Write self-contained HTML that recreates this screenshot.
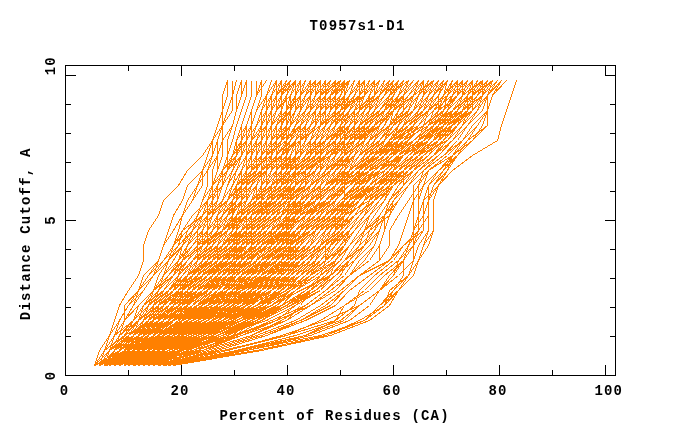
<!DOCTYPE html>
<html><head><meta charset="utf-8"><title>T0957s1-D1</title>
<style>
html,body{margin:0;padding:0;background:#fff;}
svg{display:block;}
text{font-family:"Liberation Mono","DejaVu Sans Mono",monospace;font-weight:bold;font-size:14px;letter-spacing:1.2px;fill:#000;}
.c polyline{fill:none;stroke:#ff8000;stroke-width:1;}
</style></head><body>
<svg width="680" height="440" viewBox="0 0 680 440">
<rect width="680" height="440" fill="#fff"/>
<g class="c" shape-rendering="crispEdges" transform="translate(0.5,0.5)">
<polyline points="94,365 99,350 109,335 114,320 119,305 128,290 138,275 143,260 143,245 148,230 158,215 163,200 178,185 187,170 202,155 212,140 217,125 222,110 222,95 227,80"/>
<polyline points="94,365 104,350 109,335 119,320 128,305 143,290 153,275 158,260 163,245 168,230 173,215 182,200 187,185 202,170 207,155 212,140 217,125 222,110 222,95 227,80"/>
<polyline points="173,365 256,350 325,335 364,320 384,305 398,290 408,275 418,260 423,245 433,230 433,215 433,200 438,185 447,170 457,155 472,140 487,125 487,110 492,95 506,80"/>
<polyline points="173,365 261,350 330,335 369,320 389,305 398,290 413,275 418,260 428,245 433,230 433,215 433,200 438,185 452,170 472,155 497,140 501,125 506,110 511,95 516,80"/>
<polyline points="119,365 138,350 158,335 173,320 182,305 182,290 192,275 197,260 197,245 207,230 207,215 212,200 212,185 212,170 217,155 217,140 222,125 222,110 227,95 227,80"/>
<polyline points="114,365 124,350 128,335 143,320 153,305 163,290 173,275 178,260 182,245 192,230 197,215 202,200 207,185 207,170 212,155 212,140 222,125 222,110 227,95 227,80"/>
<polyline points="94,365 119,350 128,335 143,320 163,305 173,290 178,275 187,260 197,245 197,230 202,215 207,200 212,185 217,170 217,155 222,140 222,125 227,110 232,95 232,80"/>
<polyline points="94,365 133,350 153,335 163,320 178,305 182,290 187,275 197,260 197,245 202,230 207,215 212,200 212,185 217,170 222,155 222,140 222,125 227,110 232,95 232,80"/>
<polyline points="99,365 104,350 114,335 119,320 128,305 138,290 148,275 158,260 163,245 173,230 182,215 187,200 197,185 202,170 207,155 212,140 222,125 227,110 232,95 236,80"/>
<polyline points="114,365 124,350 128,335 138,320 148,305 153,290 158,275 168,260 173,245 178,230 182,215 192,200 202,185 202,170 212,155 217,140 222,125 232,110 232,95 236,80"/>
<polyline points="94,365 104,350 124,335 138,320 153,305 163,290 178,275 182,260 192,245 202,230 207,215 207,200 222,185 222,170 227,155 227,140 232,125 236,110 236,95 241,80"/>
<polyline points="99,365 128,350 148,335 158,320 173,305 178,290 187,275 197,260 197,245 207,230 212,215 212,200 217,185 227,170 227,155 227,140 232,125 236,110 241,95 241,80"/>
<polyline points="109,365 114,350 119,335 124,320 124,305 138,290 143,275 158,260 163,245 173,230 182,215 192,200 197,185 207,170 217,155 222,140 232,125 236,110 241,95 246,80"/>
<polyline points="133,365 153,350 163,335 173,320 182,305 182,290 192,275 197,260 197,245 202,230 207,215 217,200 217,185 222,170 227,155 232,140 236,125 241,110 246,95 246,80"/>
<polyline points="104,365 133,350 153,335 173,320 178,305 192,290 197,275 202,260 212,245 217,230 217,215 222,200 227,185 232,170 236,155 241,140 241,125 246,110 251,95 251,80"/>
<polyline points="143,365 148,350 163,335 173,320 178,305 187,290 197,275 202,260 207,245 212,230 217,215 222,200 227,185 232,170 236,155 236,140 241,125 246,110 251,95 251,80"/>
<polyline points="138,365 158,350 178,335 187,320 197,305 207,290 212,275 222,260 227,245 232,230 236,215 241,200 241,185 241,170 246,155 246,140 246,125 251,110 256,95 256,80"/>
<polyline points="133,365 158,350 173,335 187,320 197,305 207,290 212,275 222,260 227,245 232,230 232,215 236,200 236,185 241,170 246,155 246,140 251,125 251,110 256,95 256,80"/>
<polyline points="99,365 109,350 124,335 133,320 143,305 158,290 168,275 182,260 187,245 192,230 202,215 217,200 222,185 222,170 232,155 241,140 246,125 251,110 256,95 261,80"/>
<polyline points="133,365 143,350 153,335 168,320 178,305 192,290 197,275 212,260 217,245 222,230 227,215 236,200 236,185 241,170 246,155 251,140 251,125 256,110 261,95 261,80"/>
<polyline points="124,365 133,350 138,335 148,320 158,305 163,290 173,275 182,260 192,245 202,230 212,215 217,200 222,185 227,170 241,155 241,140 251,125 251,110 256,95 261,80"/>
<polyline points="109,365 119,350 124,335 133,320 143,305 153,290 163,275 173,260 182,245 192,230 197,215 207,200 212,185 222,170 232,155 236,140 246,125 251,110 256,95 266,80"/>
<polyline points="104,365 114,350 128,335 138,320 158,305 173,290 178,275 192,260 202,245 207,230 217,215 222,200 232,185 236,170 241,155 246,140 251,125 256,110 266,95 271,80"/>
<polyline points="104,365 124,350 138,335 153,320 173,305 178,290 187,275 197,260 207,245 207,230 217,215 227,200 232,185 241,170 246,155 251,140 256,125 261,110 266,95 271,80"/>
<polyline points="99,365 114,350 128,335 138,320 153,305 168,290 178,275 187,260 197,245 212,230 217,215 222,200 232,185 236,170 246,155 251,140 256,125 261,110 266,95 276,80"/>
<polyline points="133,365 138,350 143,335 158,320 158,305 168,290 178,275 182,260 192,245 202,230 212,215 217,200 222,185 232,170 241,155 246,140 256,125 261,110 266,95 271,80"/>
<polyline points="119,365 133,350 148,335 163,320 173,305 182,290 192,275 197,260 207,245 217,230 222,215 232,200 236,185 246,170 246,155 251,140 266,125 266,110 266,95 276,80"/>
<polyline points="119,365 128,350 138,335 148,320 163,305 178,290 187,275 197,260 207,245 217,230 222,215 227,200 232,185 241,170 251,155 251,140 261,125 266,110 266,95 276,80"/>
<polyline points="114,365 119,350 124,335 133,320 138,305 153,290 163,275 168,260 182,245 187,230 197,215 207,200 212,185 227,170 236,155 241,140 251,125 256,110 266,95 276,80"/>
<polyline points="158,365 163,350 163,335 168,320 178,305 182,290 187,275 197,260 202,245 212,230 217,215 222,200 232,185 241,170 246,155 251,140 261,125 261,110 271,95 276,80"/>
<polyline points="119,365 124,350 128,335 138,320 148,305 158,290 168,275 178,260 187,245 192,230 207,215 212,200 222,185 232,170 241,155 246,140 256,125 261,110 271,95 281,80"/>
<polyline points="114,365 124,350 143,335 163,320 178,305 192,290 202,275 207,260 217,245 222,230 232,215 232,200 241,185 241,170 251,155 256,140 266,125 271,110 271,95 276,80"/>
<polyline points="128,365 143,350 158,335 168,320 182,305 192,290 197,275 212,260 217,245 222,230 232,215 236,200 236,185 251,170 251,155 261,140 261,125 266,110 271,95 281,80"/>
<polyline points="114,365 124,350 138,335 153,320 168,305 178,290 192,275 202,260 207,245 222,230 227,215 232,200 241,185 246,170 251,155 256,140 261,125 271,110 276,95 276,80"/>
<polyline points="124,365 133,350 153,335 163,320 178,305 187,290 197,275 207,260 212,245 222,230 227,215 236,200 241,185 246,170 251,155 256,140 261,125 271,110 276,95 276,80"/>
<polyline points="128,365 143,350 148,335 163,320 178,305 187,290 202,275 212,260 222,245 227,230 232,215 241,200 246,185 251,170 256,155 261,140 266,125 276,110 276,95 276,80"/>
<polyline points="114,365 158,350 178,335 192,320 202,305 207,290 217,275 222,260 227,245 232,230 236,215 241,200 246,185 251,170 256,155 256,140 266,125 271,110 276,95 281,80"/>
<polyline points="138,365 158,350 173,335 187,320 202,305 212,290 217,275 227,260 232,245 236,230 241,215 246,200 251,185 256,170 256,155 266,140 266,125 271,110 276,95 281,80"/>
<polyline points="158,365 168,350 182,335 187,320 202,305 212,290 217,275 222,260 236,245 236,230 236,215 246,200 246,185 256,170 256,155 266,140 271,125 271,110 271,95 276,80"/>
<polyline points="133,365 138,350 148,335 153,320 163,305 168,290 178,275 187,260 202,245 202,230 212,215 222,200 232,185 236,170 246,155 251,140 261,125 266,110 276,95 281,80"/>
<polyline points="104,365 138,350 168,335 187,320 202,305 207,290 222,275 227,260 232,245 236,230 241,215 246,200 251,185 256,170 261,155 261,140 266,125 276,110 276,95 281,80"/>
<polyline points="119,365 138,350 163,335 187,320 202,305 217,290 227,275 232,260 241,245 246,230 246,215 251,200 256,185 261,170 266,155 266,140 271,125 276,110 276,95 281,80"/>
<polyline points="94,365 109,350 114,335 133,320 148,305 163,290 178,275 182,260 202,245 212,230 222,215 227,200 241,185 246,170 251,155 261,140 261,125 271,110 276,95 281,80"/>
<polyline points="119,365 133,350 158,335 178,320 192,305 207,290 212,275 222,260 232,245 236,230 236,215 246,200 256,185 261,170 261,155 266,140 271,125 271,110 281,95 281,80"/>
<polyline points="119,365 138,350 153,335 173,320 187,305 197,290 212,275 217,260 227,245 232,230 236,215 241,200 246,185 251,170 261,155 266,140 266,125 271,110 281,95 281,80"/>
<polyline points="143,365 148,350 163,335 168,320 178,305 187,290 197,275 202,260 212,245 217,230 227,215 236,200 246,185 251,170 256,155 261,140 266,125 271,110 281,95 281,80"/>
<polyline points="124,365 128,350 143,335 153,320 168,305 182,290 197,275 212,260 217,245 232,230 236,215 246,200 251,185 256,170 266,155 266,140 271,125 271,110 281,95 281,80"/>
<polyline points="99,365 119,350 128,335 148,320 158,305 173,290 182,275 192,260 202,245 212,230 222,215 227,200 236,185 246,170 256,155 261,140 266,125 271,110 276,95 286,80"/>
<polyline points="104,365 124,350 138,335 153,320 163,305 173,290 187,275 197,260 207,245 212,230 222,215 232,200 236,185 246,170 251,155 261,140 271,125 276,110 276,95 286,80"/>
<polyline points="124,365 128,350 133,335 138,320 148,305 158,290 163,275 173,260 182,245 187,230 202,215 212,200 222,185 227,170 236,155 246,140 256,125 266,110 276,95 281,80"/>
<polyline points="104,365 128,350 148,335 168,320 182,305 192,290 202,275 212,260 217,245 227,230 232,215 236,200 246,185 246,170 256,155 261,140 266,125 276,110 276,95 286,80"/>
<polyline points="109,365 128,350 148,335 163,320 182,305 192,290 202,275 217,260 222,245 232,230 236,215 246,200 251,185 261,170 261,155 266,140 271,125 276,110 281,95 286,80"/>
<polyline points="99,365 104,350 114,335 119,320 128,305 138,290 148,275 163,260 173,245 182,230 192,215 207,200 217,185 227,170 232,155 246,140 256,125 266,110 276,95 286,80"/>
<polyline points="99,365 104,350 114,335 124,320 133,305 143,290 153,275 168,260 178,245 182,230 202,215 212,200 222,185 232,170 241,155 251,140 261,125 271,110 281,95 286,80"/>
<polyline points="128,365 133,350 138,335 143,320 148,305 153,290 163,275 168,260 173,245 187,230 197,215 202,200 212,185 222,170 236,155 246,140 256,125 266,110 276,95 286,80"/>
<polyline points="124,365 143,350 168,335 182,320 192,305 202,290 212,275 222,260 227,245 236,230 241,215 241,200 251,185 256,170 261,155 266,140 271,125 276,110 281,95 286,80"/>
<polyline points="104,365 109,350 119,335 133,320 143,305 153,290 168,275 182,260 192,245 202,230 212,215 227,200 236,185 241,170 246,155 261,140 266,125 276,110 281,95 290,80"/>
<polyline points="124,365 128,350 128,335 138,320 143,305 153,290 158,275 168,260 178,245 182,230 192,215 207,200 212,185 222,170 236,155 246,140 256,125 266,110 276,95 290,80"/>
<polyline points="143,365 148,350 153,335 163,320 173,305 182,290 197,275 202,260 212,245 227,230 232,215 241,200 251,185 256,170 261,155 266,140 271,125 281,110 281,95 290,80"/>
<polyline points="104,365 124,350 148,335 168,320 182,305 197,290 217,275 222,260 232,245 236,230 246,215 251,200 256,185 266,170 266,155 276,140 281,125 281,110 286,95 290,80"/>
<polyline points="99,365 124,350 138,335 158,320 168,305 187,290 192,275 202,260 212,245 222,230 227,215 236,200 241,185 251,170 256,155 261,140 266,125 276,110 286,95 290,80"/>
<polyline points="99,365 119,350 143,335 158,320 178,305 187,290 197,275 202,260 212,245 227,230 232,215 236,200 246,185 251,170 256,155 261,140 271,125 281,110 281,95 290,80"/>
<polyline points="143,365 168,350 192,335 207,320 217,305 227,290 232,275 241,260 241,245 246,230 256,215 261,200 261,185 271,170 271,155 271,140 281,125 286,110 286,95 290,80"/>
<polyline points="119,365 124,350 133,335 143,320 153,305 163,290 178,275 187,260 202,245 212,230 222,215 232,200 241,185 246,170 256,155 266,140 271,125 276,110 286,95 290,80"/>
<polyline points="109,365 124,350 133,335 143,320 158,305 173,290 182,275 192,260 202,245 207,230 222,215 227,200 241,185 246,170 251,155 261,140 271,125 276,110 281,95 290,80"/>
<polyline points="119,365 138,350 153,335 168,320 182,305 197,290 207,275 217,260 227,245 232,230 241,215 246,200 251,185 256,170 266,155 271,140 276,125 281,110 281,95 290,80"/>
<polyline points="114,365 119,350 133,335 148,320 163,305 182,290 192,275 207,260 217,245 232,230 236,215 246,200 251,185 261,170 261,155 271,140 276,125 281,110 286,95 295,80"/>
<polyline points="109,365 114,350 124,335 138,320 148,305 153,290 163,275 178,260 182,245 197,230 207,215 222,200 227,185 236,170 246,155 256,140 266,125 276,110 281,95 295,80"/>
<polyline points="128,365 138,350 153,335 163,320 178,305 187,290 202,275 212,260 217,245 227,230 236,215 246,200 251,185 256,170 261,155 271,140 276,125 281,110 286,95 295,80"/>
<polyline points="138,365 148,350 168,335 178,320 187,305 202,290 212,275 222,260 232,245 241,230 246,215 256,200 256,185 266,170 271,155 276,140 281,125 286,110 290,95 295,80"/>
<polyline points="109,365 119,350 133,335 143,320 158,305 173,290 187,275 192,260 207,245 217,230 227,215 232,200 241,185 251,170 261,155 266,140 276,125 281,110 286,95 290,80"/>
<polyline points="114,365 168,350 192,335 212,320 217,305 222,290 232,275 236,260 246,245 251,230 261,215 261,200 266,185 271,170 271,155 281,140 286,125 286,110 290,95 295,80"/>
<polyline points="94,365 104,350 124,335 133,320 143,305 158,290 173,275 182,260 192,245 207,230 212,215 222,200 232,185 241,170 251,155 261,140 271,125 276,110 290,95 295,80"/>
<polyline points="99,365 104,350 114,335 124,320 138,305 153,290 173,275 187,260 202,245 217,230 227,215 236,200 246,185 256,170 266,155 276,140 276,125 286,110 290,95 295,80"/>
<polyline points="143,365 153,350 163,335 173,320 182,305 192,290 202,275 217,260 222,245 232,230 236,215 251,200 261,185 261,170 271,155 276,140 281,125 286,110 290,95 295,80"/>
<polyline points="104,365 114,350 128,335 143,320 158,305 173,290 187,275 197,260 212,245 222,230 232,215 236,200 251,185 256,170 261,155 271,140 276,125 286,110 286,95 295,80"/>
<polyline points="124,365 133,350 148,335 158,320 173,305 182,290 197,275 207,260 217,245 222,230 236,215 241,200 251,185 261,170 261,155 271,140 276,125 286,110 290,95 295,80"/>
<polyline points="143,365 168,350 187,335 212,320 227,305 236,290 246,275 251,260 251,245 261,230 266,215 271,200 276,185 276,170 281,155 286,140 286,125 295,110 295,95 295,80"/>
<polyline points="119,365 133,350 153,335 168,320 187,305 202,290 212,275 222,260 232,245 241,230 246,215 256,200 261,185 266,170 276,155 281,140 286,125 286,110 295,95 295,80"/>
<polyline points="104,365 119,350 148,335 173,320 182,305 207,290 217,275 222,260 236,245 241,230 251,215 256,200 266,185 266,170 271,155 281,140 281,125 286,110 290,95 295,80"/>
<polyline points="119,365 143,350 168,335 182,320 202,305 217,290 227,275 236,260 241,245 246,230 251,215 261,200 266,185 271,170 276,155 281,140 286,125 290,110 290,95 300,80"/>
<polyline points="109,365 119,350 124,335 133,320 143,305 158,290 168,275 182,260 197,245 207,230 217,215 227,200 236,185 246,170 261,155 271,140 276,125 286,110 290,95 295,80"/>
<polyline points="148,365 158,350 168,335 182,320 197,305 207,290 222,275 236,260 236,245 251,230 251,215 261,200 266,185 271,170 276,155 281,140 281,125 290,110 295,95 300,80"/>
<polyline points="133,365 138,350 148,335 153,320 163,305 173,290 182,275 192,260 202,245 212,230 222,215 232,200 241,185 251,170 261,155 266,140 271,125 286,110 290,95 300,80"/>
<polyline points="109,365 119,350 133,335 148,320 163,305 178,290 187,275 192,260 207,245 217,230 227,215 236,200 246,185 256,170 261,155 271,140 281,125 286,110 295,95 295,80"/>
<polyline points="143,365 148,350 163,335 168,320 173,305 187,290 192,275 207,260 212,245 222,230 232,215 241,200 246,185 261,170 261,155 271,140 281,125 286,110 290,95 300,80"/>
<polyline points="114,365 153,350 182,335 202,320 222,305 232,290 241,275 246,260 251,245 256,230 266,215 266,200 276,185 276,170 281,155 286,140 290,125 295,110 295,95 300,80"/>
<polyline points="104,365 114,350 124,335 138,320 153,305 168,290 182,275 192,260 207,245 212,230 227,215 236,200 241,185 256,170 261,155 271,140 271,125 286,110 290,95 300,80"/>
<polyline points="109,365 119,350 128,335 138,320 158,305 168,290 182,275 192,260 207,245 217,230 232,215 241,200 251,185 261,170 266,155 271,140 281,125 290,110 300,95 300,80"/>
<polyline points="128,365 158,350 178,335 192,320 202,305 212,290 217,275 222,260 232,245 241,230 246,215 256,200 261,185 266,170 271,155 281,140 281,125 290,110 295,95 300,80"/>
<polyline points="114,365 128,350 148,335 168,320 187,305 202,290 212,275 227,260 236,245 246,230 251,215 261,200 266,185 271,170 281,155 286,140 290,125 295,110 300,95 300,80"/>
<polyline points="109,365 148,350 178,335 202,320 212,305 222,290 232,275 241,260 246,245 251,230 261,215 261,200 266,185 276,170 276,155 281,140 290,125 290,110 295,95 300,80"/>
<polyline points="143,365 153,350 163,335 178,320 187,305 202,290 212,275 222,260 232,245 241,230 246,215 256,200 261,185 271,170 276,155 281,140 286,125 295,110 300,95 300,80"/>
<polyline points="133,365 138,350 148,335 163,320 168,305 178,290 192,275 197,260 207,245 217,230 232,215 241,200 246,185 256,170 266,155 271,140 281,125 290,110 295,95 305,80"/>
<polyline points="109,365 119,350 124,335 138,320 148,305 163,290 178,275 182,260 197,245 212,230 222,215 232,200 246,185 251,170 266,155 271,140 281,125 290,110 295,95 305,80"/>
<polyline points="99,365 114,350 138,335 153,320 168,305 182,290 197,275 207,260 222,245 232,230 236,215 246,200 256,185 261,170 271,155 276,140 286,125 290,110 295,95 305,80"/>
<polyline points="114,365 124,350 128,335 143,320 148,305 158,290 173,275 182,260 192,245 207,230 217,215 227,200 236,185 251,170 261,155 271,140 276,125 290,110 295,95 305,80"/>
<polyline points="109,365 114,350 124,335 133,320 148,305 158,290 173,275 187,260 197,245 207,230 222,215 232,200 241,185 251,170 261,155 271,140 286,125 290,110 300,95 305,80"/>
<polyline points="138,365 143,350 153,335 158,320 163,305 173,290 187,275 197,260 207,245 222,230 232,215 241,200 251,185 256,170 266,155 276,140 286,125 286,110 300,95 310,80"/>
<polyline points="133,365 143,350 153,335 168,320 178,305 187,290 197,275 207,260 222,245 227,230 241,215 241,200 251,185 261,170 271,155 281,140 286,125 290,110 300,95 305,80"/>
<polyline points="124,365 178,350 207,335 217,320 232,305 236,290 241,275 251,260 251,245 261,230 266,215 271,200 271,185 276,170 286,155 286,140 290,125 300,110 300,95 305,80"/>
<polyline points="143,365 148,350 163,335 173,320 187,305 197,290 207,275 217,260 232,245 241,230 251,215 256,200 261,185 271,170 276,155 286,140 290,125 295,110 300,95 305,80"/>
<polyline points="143,365 148,350 158,335 163,320 173,305 178,290 192,275 202,260 207,245 222,230 227,215 236,200 246,185 256,170 266,155 276,140 286,125 290,110 300,95 305,80"/>
<polyline points="138,365 148,350 163,335 173,320 187,305 197,290 207,275 217,260 227,245 232,230 241,215 251,200 256,185 266,170 271,155 281,140 290,125 295,110 300,95 310,80"/>
<polyline points="104,365 124,350 143,335 163,320 178,305 197,290 207,275 217,260 232,245 241,230 251,215 256,200 266,185 271,170 281,155 286,140 290,125 295,110 305,95 310,80"/>
<polyline points="143,365 158,350 178,335 192,320 202,305 217,290 227,275 236,260 241,245 251,230 261,215 266,200 271,185 276,170 286,155 290,140 295,125 300,110 300,95 310,80"/>
<polyline points="153,365 163,350 178,335 187,320 202,305 212,290 227,275 236,260 246,245 256,230 261,215 266,200 276,185 281,170 281,155 290,140 295,125 300,110 305,95 310,80"/>
<polyline points="138,365 143,350 158,335 168,320 178,305 192,290 197,275 207,260 217,245 227,230 232,215 241,200 256,185 261,170 266,155 276,140 286,125 295,110 300,95 305,80"/>
<polyline points="153,365 158,350 163,335 173,320 187,305 192,290 197,275 217,260 217,245 232,230 236,215 246,200 256,185 266,170 276,155 281,140 286,125 295,110 300,95 310,80"/>
<polyline points="138,365 148,350 163,335 173,320 187,305 197,290 202,275 217,260 227,245 241,230 246,215 261,200 266,185 271,170 281,155 286,140 290,125 300,110 305,95 310,80"/>
<polyline points="128,365 138,350 158,335 168,320 182,305 197,290 212,275 217,260 232,245 241,230 251,215 256,200 266,185 271,170 281,155 286,140 290,125 300,110 305,95 310,80"/>
<polyline points="128,365 148,350 163,335 182,320 197,305 212,290 227,275 232,260 246,245 251,230 261,215 266,200 276,185 281,170 286,155 290,140 295,125 300,110 305,95 310,80"/>
<polyline points="109,365 133,350 153,335 168,320 187,305 197,290 207,275 212,260 227,245 236,230 241,215 251,200 261,185 266,170 271,155 281,140 290,125 295,110 305,95 310,80"/>
<polyline points="119,365 133,350 148,335 163,320 182,305 197,290 207,275 217,260 232,245 241,230 251,215 256,200 271,185 276,170 281,155 286,140 295,125 300,110 305,95 315,80"/>
<polyline points="133,365 138,350 138,335 153,320 163,305 168,290 178,275 192,260 202,245 217,230 227,215 236,200 246,185 256,170 266,155 286,140 290,125 300,110 305,95 315,80"/>
<polyline points="94,365 109,350 124,335 138,320 148,305 163,290 178,275 192,260 207,245 222,230 227,215 246,200 251,185 261,170 276,155 276,140 290,125 295,110 310,95 315,80"/>
<polyline points="148,365 153,350 158,335 168,320 173,305 178,290 187,275 197,260 207,245 217,230 222,215 232,200 241,185 251,170 261,155 276,140 290,125 295,110 300,95 315,80"/>
<polyline points="138,365 148,350 153,335 163,320 173,305 182,290 197,275 207,260 222,245 236,230 241,215 251,200 261,185 271,170 276,155 286,140 295,125 300,110 305,95 315,80"/>
<polyline points="99,365 109,350 133,335 143,320 163,305 178,290 187,275 207,260 217,245 232,230 241,215 251,200 261,185 266,170 271,155 281,140 290,125 300,110 305,95 315,80"/>
<polyline points="99,365 109,350 124,335 138,320 158,305 182,290 197,275 207,260 222,245 232,230 241,215 251,200 266,185 276,170 281,155 286,140 295,125 300,110 305,95 315,80"/>
<polyline points="104,365 124,350 138,335 158,320 168,305 187,290 197,275 212,260 227,245 232,230 241,215 251,200 261,185 266,170 281,155 286,140 290,125 300,110 310,95 310,80"/>
<polyline points="148,365 158,350 168,335 182,320 192,305 202,290 212,275 222,260 227,245 246,230 251,215 256,200 261,185 276,170 281,155 286,140 295,125 300,110 310,95 315,80"/>
<polyline points="124,365 138,350 158,335 173,320 192,305 212,290 222,275 232,260 241,245 246,230 261,215 266,200 276,185 276,170 286,155 290,140 295,125 305,110 310,95 315,80"/>
<polyline points="104,365 133,350 168,335 187,320 207,305 222,290 232,275 241,260 251,245 256,230 261,215 271,200 281,185 281,170 290,155 295,140 300,125 305,110 310,95 315,80"/>
<polyline points="128,365 163,350 187,335 202,320 212,305 222,290 232,275 236,260 246,245 251,230 261,215 266,200 271,185 281,170 286,155 290,140 300,125 305,110 310,95 315,80"/>
<polyline points="133,365 143,350 148,335 163,320 173,305 178,290 187,275 197,260 207,245 222,230 232,215 236,200 246,185 261,170 271,155 281,140 290,125 295,110 310,95 315,80"/>
<polyline points="114,365 124,350 138,335 153,320 168,305 182,290 197,275 207,260 217,245 232,230 241,215 251,200 261,185 271,170 276,155 290,140 295,125 300,110 305,95 320,80"/>
<polyline points="128,365 173,350 207,335 232,320 246,305 251,290 261,275 266,260 271,245 276,230 281,215 286,200 290,185 295,170 300,155 300,140 305,125 310,110 315,95 315,80"/>
<polyline points="158,365 178,350 202,335 217,320 232,305 241,290 251,275 256,260 266,245 271,230 276,215 281,200 286,185 290,170 295,155 295,140 305,125 310,110 310,95 320,80"/>
<polyline points="133,365 143,350 153,335 168,320 187,305 192,290 212,275 227,260 236,245 251,230 261,215 266,200 276,185 286,170 286,155 295,140 300,125 305,110 315,95 320,80"/>
<polyline points="109,365 119,350 133,335 158,320 178,305 197,290 212,275 232,260 241,245 256,230 261,215 271,200 276,185 286,170 290,155 295,140 300,125 305,110 310,95 320,80"/>
<polyline points="138,365 148,350 153,335 163,320 173,305 187,290 192,275 207,260 217,245 227,230 241,215 251,200 261,185 271,170 276,155 290,140 300,125 305,110 315,95 320,80"/>
<polyline points="143,365 168,350 182,335 207,320 227,305 232,290 241,275 251,260 256,245 266,230 276,215 281,200 286,185 290,170 295,155 300,140 305,125 310,110 315,95 320,80"/>
<polyline points="104,365 124,350 138,335 158,320 173,305 187,290 202,275 212,260 222,245 232,230 241,215 251,200 266,185 271,170 281,155 290,140 295,125 305,110 310,95 320,80"/>
<polyline points="138,365 148,350 163,335 182,320 197,305 212,290 227,275 236,260 251,245 261,230 266,215 271,200 281,185 290,170 290,155 300,140 305,125 310,110 315,95 320,80"/>
<polyline points="104,365 119,350 133,335 143,320 163,305 173,290 192,275 202,260 217,245 227,230 241,215 251,200 261,185 276,170 281,155 290,140 295,125 305,110 310,95 320,80"/>
<polyline points="148,365 158,350 178,335 192,320 202,305 212,290 222,275 236,260 246,245 246,230 261,215 266,200 276,185 281,170 290,155 295,140 300,125 305,110 315,95 325,80"/>
<polyline points="109,365 128,350 158,335 182,320 202,305 217,290 232,275 236,260 246,245 256,230 261,215 266,200 276,185 286,170 286,155 295,140 300,125 310,110 320,95 320,80"/>
<polyline points="109,365 124,350 128,335 143,320 158,305 173,290 187,275 202,260 217,245 227,230 236,215 256,200 266,185 271,170 286,155 290,140 295,125 310,110 315,95 325,80"/>
<polyline points="114,365 138,350 153,335 168,320 182,305 192,290 207,275 222,260 232,245 236,230 246,215 256,200 266,185 276,170 286,155 290,140 300,125 310,110 315,95 325,80"/>
<polyline points="109,365 133,350 168,335 187,320 207,305 217,290 227,275 241,260 246,245 251,230 261,215 271,200 276,185 281,170 290,155 295,140 305,125 310,110 320,95 325,80"/>
<polyline points="128,365 138,350 158,335 173,320 187,305 202,290 212,275 227,260 241,245 251,230 256,215 266,200 276,185 281,170 290,155 300,140 300,125 310,110 315,95 320,80"/>
<polyline points="104,365 114,350 133,335 158,320 173,305 192,290 207,275 222,260 236,245 246,230 256,215 261,200 271,185 286,170 290,155 300,140 305,125 310,110 320,95 320,80"/>
<polyline points="133,365 168,350 202,335 222,320 241,305 251,290 256,275 266,260 271,245 276,230 286,215 290,200 290,185 295,170 300,155 305,140 315,125 320,110 320,95 325,80"/>
<polyline points="104,365 148,350 173,335 192,320 207,305 222,290 232,275 236,260 251,245 251,230 261,215 266,200 276,185 281,170 290,155 300,140 305,125 310,110 320,95 325,80"/>
<polyline points="138,365 163,350 192,335 207,320 222,305 232,290 246,275 251,260 261,245 266,230 276,215 281,200 290,185 295,170 295,155 305,140 315,125 315,110 320,95 325,80"/>
<polyline points="148,365 168,350 182,335 192,320 212,305 222,290 236,275 241,260 251,245 261,230 266,215 276,200 281,185 290,170 295,155 300,140 310,125 320,110 325,95 325,80"/>
<polyline points="119,365 128,350 138,335 148,320 163,305 178,290 187,275 202,260 217,245 232,230 241,215 251,200 266,185 276,170 286,155 295,140 300,125 310,110 320,95 325,80"/>
<polyline points="99,365 109,350 119,335 124,320 138,305 153,290 163,275 178,260 187,245 197,230 212,215 227,200 236,185 256,170 266,155 276,140 290,125 305,110 315,95 330,80"/>
<polyline points="104,365 202,350 236,335 251,320 261,305 271,290 281,275 281,260 286,245 286,230 295,215 295,200 300,185 305,170 310,155 310,140 315,125 320,110 325,95 330,80"/>
<polyline points="99,365 114,350 133,335 153,320 173,305 187,290 207,275 227,260 236,245 251,230 261,215 271,200 281,185 290,170 295,155 305,140 305,125 315,110 320,95 325,80"/>
<polyline points="114,365 128,350 148,335 168,320 187,305 202,290 222,275 232,260 241,245 251,230 261,215 276,200 281,185 290,170 295,155 300,140 305,125 315,110 325,95 330,80"/>
<polyline points="124,365 133,350 138,335 143,320 158,305 163,290 178,275 187,260 202,245 212,230 227,215 236,200 251,185 266,170 276,155 286,140 300,125 310,110 320,95 325,80"/>
<polyline points="109,365 114,350 128,335 138,320 148,305 158,290 168,275 182,260 192,245 207,230 222,215 227,200 241,185 256,170 266,155 281,140 290,125 305,110 320,95 330,80"/>
<polyline points="99,365 114,350 128,335 148,320 168,305 187,290 207,275 222,260 232,245 246,230 256,215 261,200 271,185 281,170 290,155 300,140 305,125 310,110 320,95 325,80"/>
<polyline points="114,365 124,350 133,335 148,320 153,305 168,290 182,275 192,260 202,245 217,230 232,215 241,200 256,185 266,170 281,155 286,140 300,125 305,110 320,95 330,80"/>
<polyline points="124,365 133,350 148,335 163,320 182,305 197,290 222,275 232,260 246,245 261,230 266,215 276,200 286,185 290,170 295,155 305,140 310,125 320,110 320,95 335,80"/>
<polyline points="128,365 158,350 178,335 197,320 217,305 232,290 241,275 246,260 261,245 266,230 276,215 286,200 290,185 295,170 300,155 310,140 315,125 320,110 325,95 330,80"/>
<polyline points="128,365 158,350 182,335 202,320 222,305 232,290 241,275 256,260 261,245 271,230 276,215 286,200 290,185 295,170 300,155 305,140 315,125 320,110 325,95 330,80"/>
<polyline points="99,365 114,350 128,335 148,320 163,305 182,290 197,275 212,260 232,245 241,230 256,215 266,200 276,185 286,170 295,155 305,140 315,125 320,110 330,95 335,80"/>
<polyline points="153,365 173,350 202,335 227,320 241,305 261,290 271,275 276,260 286,245 290,230 295,215 300,200 305,185 305,170 315,155 315,140 320,125 320,110 330,95 335,80"/>
<polyline points="128,365 143,350 158,335 178,320 192,305 207,290 217,275 232,260 241,245 251,230 261,215 271,200 276,185 286,170 295,155 300,140 310,125 315,110 325,95 335,80"/>
<polyline points="114,365 124,350 138,335 153,320 173,305 192,290 212,275 227,260 236,245 251,230 266,215 271,200 281,185 290,170 295,155 305,140 315,125 320,110 325,95 330,80"/>
<polyline points="109,365 114,350 128,335 143,320 163,305 178,290 192,275 212,260 222,245 236,230 246,215 261,200 271,185 281,170 290,155 300,140 305,125 315,110 325,95 335,80"/>
<polyline points="148,365 153,350 158,335 168,320 173,305 182,290 192,275 197,260 212,245 222,230 227,215 241,200 251,185 266,170 276,155 286,140 300,125 315,110 325,95 335,80"/>
<polyline points="109,365 124,350 138,335 153,320 168,305 182,290 202,275 212,260 227,245 241,230 246,215 261,200 266,185 281,170 290,155 295,140 310,125 315,110 330,95 335,80"/>
<polyline points="124,365 128,350 133,335 143,320 153,305 158,290 168,275 178,260 192,245 207,230 217,215 227,200 241,185 251,170 271,155 281,140 300,125 310,110 320,95 335,80"/>
<polyline points="143,365 158,350 173,335 192,320 207,305 222,290 236,275 246,260 256,245 266,230 276,215 281,200 295,185 295,170 305,155 315,140 320,125 325,110 325,95 340,80"/>
<polyline points="104,365 119,350 128,335 143,320 158,305 173,290 187,275 207,260 222,245 232,230 246,215 256,200 266,185 281,170 290,155 300,140 310,125 320,110 325,95 335,80"/>
<polyline points="99,365 138,350 187,335 217,320 232,305 241,290 251,275 256,260 271,245 271,230 281,215 286,200 295,185 300,170 305,155 310,140 320,125 325,110 330,95 340,80"/>
<polyline points="153,365 163,350 173,335 182,320 192,305 207,290 217,275 232,260 236,245 251,230 261,215 271,200 281,185 290,170 295,155 305,140 315,125 325,110 330,95 335,80"/>
<polyline points="109,365 128,350 158,335 182,320 207,305 222,290 241,275 256,260 266,245 276,230 286,215 290,200 300,185 305,170 310,155 315,140 325,125 330,110 330,95 335,80"/>
<polyline points="148,365 163,350 182,335 202,320 212,305 227,290 236,275 251,260 261,245 271,230 281,215 286,200 295,185 300,170 310,155 310,140 320,125 320,110 335,95 335,80"/>
<polyline points="133,365 148,350 178,335 197,320 222,305 241,290 256,275 271,260 276,245 286,230 295,215 300,200 305,185 310,170 320,155 320,140 325,125 330,110 335,95 340,80"/>
<polyline points="99,365 114,350 133,335 158,320 178,305 202,290 217,275 232,260 246,245 256,230 266,215 276,200 281,185 290,170 305,155 310,140 315,125 320,110 335,95 340,80"/>
<polyline points="128,365 133,350 138,335 148,320 153,305 158,290 168,275 182,260 187,245 202,230 212,215 227,200 241,185 251,170 266,155 286,140 300,125 305,110 320,95 340,80"/>
<polyline points="128,365 148,350 168,335 182,320 197,305 212,290 222,275 236,260 246,245 256,230 266,215 271,200 286,185 295,170 300,155 310,140 315,125 325,110 335,95 340,80"/>
<polyline points="104,365 109,350 124,335 133,320 143,305 158,290 168,275 182,260 197,245 212,230 222,215 236,200 251,185 261,170 276,155 290,140 305,125 310,110 325,95 335,80"/>
<polyline points="109,365 119,350 133,335 148,320 168,305 182,290 202,275 212,260 232,245 241,230 251,215 261,200 281,185 286,170 295,155 305,140 310,125 325,110 335,95 335,80"/>
<polyline points="133,365 143,350 153,335 168,320 182,305 202,290 217,275 232,260 246,245 251,230 266,215 281,200 290,185 295,170 305,155 310,140 320,125 330,110 335,95 340,80"/>
<polyline points="119,365 148,350 173,335 192,320 212,305 222,290 236,275 246,260 256,245 261,230 266,215 281,200 286,185 295,170 300,155 310,140 320,125 325,110 335,95 344,80"/>
<polyline points="94,365 109,350 128,335 153,320 173,305 197,290 212,275 232,260 241,245 256,230 276,215 286,200 295,185 300,170 310,155 315,140 325,125 330,110 335,95 340,80"/>
<polyline points="128,365 158,350 192,335 222,320 236,305 251,290 256,275 266,260 276,245 286,230 290,215 295,200 300,185 310,170 315,155 320,140 325,125 330,110 335,95 340,80"/>
<polyline points="119,365 133,350 143,335 158,320 178,305 192,290 212,275 227,260 241,245 251,230 266,215 271,200 286,185 295,170 305,155 310,140 320,125 330,110 330,95 340,80"/>
<polyline points="138,365 158,350 182,335 207,320 227,305 241,290 251,275 266,260 276,245 286,230 286,215 295,200 300,185 310,170 315,155 320,140 325,125 330,110 340,95 344,80"/>
<polyline points="133,365 158,350 178,335 197,320 207,305 222,290 236,275 241,260 251,245 266,230 276,215 281,200 290,185 300,170 305,155 315,140 320,125 325,110 340,95 344,80"/>
<polyline points="109,365 119,350 133,335 148,320 163,305 173,290 187,275 202,260 212,245 227,230 236,215 256,200 266,185 281,170 290,155 300,140 310,125 325,110 330,95 344,80"/>
<polyline points="138,365 153,350 163,335 182,320 197,305 212,290 222,275 236,260 251,245 261,230 271,215 281,200 290,185 295,170 305,155 310,140 325,125 325,110 335,95 344,80"/>
<polyline points="128,365 138,350 143,335 148,320 158,305 168,290 178,275 192,260 202,245 212,230 227,215 236,200 251,185 266,170 281,155 295,140 305,125 315,110 330,95 349,80"/>
<polyline points="138,365 158,350 187,335 207,320 227,305 241,290 256,275 266,260 276,245 281,230 286,215 295,200 300,185 310,170 315,155 320,140 325,125 335,110 344,95 344,80"/>
<polyline points="133,365 143,350 153,335 163,320 178,305 187,290 202,275 217,260 227,245 241,230 251,215 266,200 281,185 286,170 295,155 310,140 320,125 330,110 340,95 344,80"/>
<polyline points="119,365 138,350 153,335 173,320 187,305 207,290 222,275 236,260 251,245 261,230 271,215 286,200 290,185 300,170 310,155 315,140 325,125 330,110 340,95 344,80"/>
<polyline points="109,365 119,350 138,335 163,320 182,305 202,290 222,275 236,260 246,245 266,230 281,215 286,200 295,185 305,170 315,155 315,140 325,125 335,110 335,95 349,80"/>
<polyline points="114,365 128,350 153,335 173,320 192,305 212,290 232,275 246,260 256,245 266,230 281,215 290,200 295,185 305,170 310,155 320,140 325,125 330,110 340,95 349,80"/>
<polyline points="114,365 124,350 138,335 153,320 173,305 187,290 207,275 222,260 241,245 251,230 271,215 276,200 286,185 295,170 310,155 315,140 330,125 335,110 340,95 344,80"/>
<polyline points="133,365 148,350 158,335 173,320 187,305 202,290 217,275 232,260 241,245 256,230 261,215 271,200 281,185 290,170 305,155 310,140 325,125 330,110 340,95 349,80"/>
<polyline points="119,365 128,350 138,335 148,320 168,305 178,290 187,275 207,260 217,245 232,230 246,215 256,200 271,185 286,170 295,155 310,140 320,125 335,110 340,95 349,80"/>
<polyline points="119,365 138,350 163,335 182,320 202,305 222,290 236,275 246,260 261,245 266,230 276,215 286,200 290,185 305,170 310,155 315,140 330,125 335,110 344,95 349,80"/>
<polyline points="158,365 163,350 168,335 178,320 187,305 187,290 202,275 212,260 222,245 232,230 241,215 256,200 271,185 276,170 290,155 300,140 315,125 325,110 340,95 344,80"/>
<polyline points="133,365 163,350 197,335 227,320 241,305 256,290 266,275 276,260 281,245 290,230 295,215 305,200 310,185 315,170 320,155 325,140 335,125 340,110 344,95 349,80"/>
<polyline points="99,365 114,350 133,335 148,320 168,305 187,290 202,275 217,260 232,245 246,230 251,215 271,200 281,185 290,170 300,155 315,140 325,125 330,110 340,95 349,80"/>
<polyline points="104,365 114,350 128,335 143,320 158,305 178,290 197,275 212,260 232,245 246,230 261,215 271,200 286,185 295,170 305,155 320,140 325,125 335,110 340,95 344,80"/>
<polyline points="109,365 128,350 148,335 168,320 192,305 207,290 227,275 241,260 251,245 266,230 276,215 286,200 295,185 300,170 315,155 320,140 325,125 335,110 344,95 349,80"/>
<polyline points="104,365 119,350 138,335 158,320 168,305 187,290 197,275 217,260 227,245 241,230 251,215 266,200 276,185 286,170 300,155 310,140 320,125 330,110 344,95 354,80"/>
<polyline points="148,365 163,350 178,335 187,320 207,305 217,290 232,275 241,260 256,245 266,230 281,215 286,200 295,185 305,170 310,155 320,140 325,125 340,110 344,95 349,80"/>
<polyline points="124,365 133,350 148,335 163,320 187,305 202,290 222,275 241,260 246,245 261,230 271,215 286,200 290,185 300,170 305,155 320,140 330,125 340,110 344,95 354,80"/>
<polyline points="109,365 133,350 163,335 192,320 217,305 236,290 251,275 261,260 276,245 281,230 286,215 290,200 305,185 310,170 320,155 325,140 335,125 335,110 344,95 354,80"/>
<polyline points="94,365 109,350 124,335 153,320 168,305 192,290 207,275 232,260 241,245 256,230 271,215 276,200 290,185 300,170 310,155 315,140 330,125 340,110 344,95 354,80"/>
<polyline points="124,365 148,350 173,335 202,320 222,305 236,290 256,275 266,260 276,245 286,230 295,215 310,200 315,185 320,170 325,155 330,140 335,125 344,110 344,95 354,80"/>
<polyline points="133,365 163,350 192,335 217,320 232,305 251,290 261,275 276,260 281,245 290,230 300,215 300,200 310,185 320,170 320,155 330,140 340,125 344,110 349,95 354,80"/>
<polyline points="119,365 133,350 143,335 168,320 182,305 197,290 212,275 227,260 236,245 251,230 261,215 276,200 286,185 295,170 305,155 315,140 325,125 335,110 344,95 354,80"/>
<polyline points="158,365 187,350 222,335 246,320 266,305 276,290 286,275 295,260 295,245 305,230 310,215 320,200 320,185 330,170 335,155 335,140 340,125 344,110 349,95 354,80"/>
<polyline points="158,365 178,350 202,335 227,320 246,305 256,290 271,275 281,260 286,245 295,230 305,215 310,200 315,185 320,170 330,155 335,140 340,125 344,110 349,95 354,80"/>
<polyline points="124,365 138,350 158,335 178,320 197,305 212,290 227,275 241,260 251,245 261,230 271,215 286,200 295,185 300,170 310,155 320,140 330,125 340,110 349,95 354,80"/>
<polyline points="114,365 128,350 148,335 173,320 187,305 207,290 227,275 241,260 256,245 266,230 281,215 290,200 300,185 310,170 315,155 325,140 335,125 344,110 349,95 359,80"/>
<polyline points="124,365 128,350 138,335 148,320 163,305 178,290 187,275 202,260 217,245 227,230 241,215 256,200 271,185 281,170 300,155 315,140 320,125 335,110 344,95 354,80"/>
<polyline points="138,365 158,350 178,335 197,320 217,305 227,290 246,275 261,260 271,245 281,230 290,215 295,200 305,185 315,170 325,155 330,140 335,125 344,110 349,95 359,80"/>
<polyline points="133,365 163,350 192,335 227,320 251,305 261,290 276,275 290,260 290,245 300,230 305,215 315,200 320,185 325,170 335,155 335,140 340,125 344,110 349,95 359,80"/>
<polyline points="138,365 153,350 158,335 173,320 187,305 207,290 217,275 236,260 246,245 261,230 271,215 286,200 300,185 310,170 315,155 325,140 335,125 340,110 349,95 359,80"/>
<polyline points="109,365 124,350 143,335 163,320 178,305 197,290 212,275 227,260 246,245 261,230 271,215 281,200 295,185 305,170 315,155 325,140 330,125 340,110 349,95 359,80"/>
<polyline points="114,365 143,350 178,335 202,320 232,305 246,290 261,275 271,260 276,245 290,230 295,215 305,200 315,185 320,170 325,155 330,140 335,125 344,110 354,95 359,80"/>
<polyline points="109,365 119,350 133,335 148,320 163,305 182,290 202,275 222,260 236,245 256,230 266,215 281,200 295,185 305,170 315,155 325,140 335,125 340,110 354,95 359,80"/>
<polyline points="128,365 153,350 182,335 207,320 232,305 246,290 261,275 276,260 286,245 295,230 305,215 310,200 320,185 325,170 330,155 340,140 340,125 349,110 354,95 359,80"/>
<polyline points="119,365 143,350 173,335 202,320 227,305 251,290 261,275 276,260 286,245 295,230 305,215 310,200 315,185 325,170 330,155 340,140 340,125 349,110 359,95 359,80"/>
<polyline points="128,365 138,350 148,335 168,320 187,305 202,290 222,275 241,260 256,245 266,230 281,215 290,200 300,185 310,170 320,155 330,140 340,125 344,110 354,95 359,80"/>
<polyline points="143,365 153,350 168,335 182,320 192,305 212,290 227,275 241,260 251,245 266,230 281,215 290,200 300,185 310,170 320,155 330,140 335,125 344,110 354,95 364,80"/>
<polyline points="124,365 133,350 138,335 153,320 163,305 173,290 187,275 197,260 217,245 222,230 236,215 256,200 266,185 281,170 300,155 310,140 325,125 335,110 349,95 364,80"/>
<polyline points="114,365 128,350 138,335 153,320 168,305 187,290 207,275 222,260 241,245 251,230 266,215 281,200 290,185 300,170 315,155 325,140 335,125 344,110 354,95 364,80"/>
<polyline points="124,365 128,350 138,335 143,320 158,305 168,290 182,275 192,260 207,245 227,230 241,215 251,200 271,185 281,170 295,155 310,140 325,125 335,110 349,95 364,80"/>
<polyline points="158,365 163,350 173,335 182,320 187,305 202,290 222,275 232,260 246,245 256,230 271,215 286,200 295,185 305,170 320,155 330,140 335,125 344,110 354,95 364,80"/>
<polyline points="124,365 128,350 138,335 148,320 163,305 178,290 197,275 217,260 232,245 246,230 261,215 281,200 286,185 300,170 315,155 325,140 340,125 344,110 354,95 364,80"/>
<polyline points="138,365 143,350 158,335 168,320 182,305 197,290 212,275 227,260 246,245 256,230 271,215 281,200 295,185 305,170 320,155 330,140 335,125 344,110 359,95 359,80"/>
<polyline points="114,365 158,350 192,335 217,320 232,305 251,290 256,275 271,260 281,245 286,230 295,215 305,200 310,185 320,170 325,155 335,140 340,125 349,110 359,95 364,80"/>
<polyline points="128,365 138,350 158,335 178,320 197,305 217,290 236,275 251,260 266,245 276,230 290,215 300,200 310,185 320,170 330,155 335,140 344,125 349,110 359,95 364,80"/>
<polyline points="119,365 133,350 143,335 148,320 168,305 182,290 192,275 207,260 222,245 232,230 246,215 266,200 276,185 290,170 305,155 315,140 330,125 340,110 349,95 364,80"/>
<polyline points="109,365 128,350 153,335 173,320 192,305 207,290 222,275 236,260 251,245 261,230 276,215 286,200 295,185 310,170 315,155 325,140 335,125 349,110 359,95 364,80"/>
<polyline points="124,365 133,350 143,335 153,320 173,305 187,290 197,275 217,260 236,245 251,230 261,215 276,200 290,185 300,170 310,155 325,140 335,125 344,110 354,95 364,80"/>
<polyline points="124,365 133,350 138,335 148,320 163,305 173,290 187,275 197,260 217,245 227,230 241,215 256,200 276,185 290,170 305,155 315,140 330,125 344,110 354,95 364,80"/>
<polyline points="153,365 173,350 192,335 212,320 236,305 256,290 266,275 276,260 290,245 295,230 305,215 310,200 320,185 325,170 335,155 344,140 349,125 354,110 364,95 369,80"/>
<polyline points="133,365 143,350 148,335 158,320 168,305 182,290 192,275 202,260 222,245 236,230 251,215 266,200 281,185 295,170 310,155 320,140 335,125 344,110 359,95 364,80"/>
<polyline points="104,365 138,350 178,335 217,320 241,305 266,290 286,275 300,260 310,245 315,230 320,215 330,200 335,185 340,170 349,155 354,140 354,125 354,110 364,95 364,80"/>
<polyline points="133,365 153,350 178,335 197,320 217,305 232,290 246,275 256,260 271,245 281,230 295,215 300,200 305,185 320,170 330,155 340,140 340,125 354,110 359,95 369,80"/>
<polyline points="119,365 133,350 158,335 178,320 197,305 217,290 236,275 256,260 266,245 281,230 295,215 305,200 310,185 325,170 335,155 344,140 344,125 354,110 359,95 369,80"/>
<polyline points="148,365 158,350 173,335 192,320 207,305 217,290 232,275 241,260 256,245 266,230 281,215 290,200 300,185 305,170 315,155 335,140 340,125 349,110 359,95 369,80"/>
<polyline points="133,365 148,350 173,335 202,320 222,305 241,290 261,275 271,260 286,245 295,230 310,215 315,200 325,185 330,170 340,155 344,140 354,125 359,110 359,95 369,80"/>
<polyline points="158,365 163,350 173,335 182,320 197,305 217,290 227,275 241,260 251,245 271,230 281,215 290,200 305,185 315,170 325,155 335,140 344,125 354,110 359,95 369,80"/>
<polyline points="158,365 168,350 182,335 202,320 217,305 236,290 251,275 266,260 276,245 286,230 295,215 310,200 320,185 325,170 335,155 344,140 349,125 354,110 364,95 374,80"/>
<polyline points="104,365 114,350 124,335 138,320 153,305 173,290 187,275 212,260 227,245 241,230 256,215 271,200 286,185 300,170 320,155 325,140 340,125 349,110 359,95 374,80"/>
<polyline points="133,365 202,350 251,335 286,320 300,305 310,290 320,275 325,260 325,245 335,230 335,215 344,200 344,185 344,170 349,155 359,140 359,125 364,110 369,95 374,80"/>
<polyline points="119,365 128,350 133,335 148,320 153,305 163,290 178,275 192,260 207,245 227,230 236,215 256,200 271,185 290,170 305,155 320,140 335,125 349,110 359,95 374,80"/>
<polyline points="104,365 114,350 133,335 153,320 168,305 192,290 202,275 227,260 241,245 251,230 261,215 281,200 295,185 305,170 315,155 325,140 340,125 349,110 364,95 374,80"/>
<polyline points="153,365 168,350 178,335 197,320 207,305 227,290 241,275 256,260 271,245 281,230 290,215 300,200 310,185 320,170 335,155 340,140 349,125 354,110 364,95 369,80"/>
<polyline points="114,365 128,350 153,335 173,320 202,305 222,290 246,275 261,260 276,245 290,230 300,215 310,200 320,185 330,170 335,155 349,140 354,125 359,110 374,95 374,80"/>
<polyline points="104,365 109,350 114,335 124,320 133,305 138,290 153,275 163,260 178,245 192,230 207,215 227,200 241,185 261,170 281,155 300,140 320,125 340,110 359,95 374,80"/>
<polyline points="128,365 138,350 158,335 178,320 202,305 227,290 241,275 261,260 266,245 281,230 295,215 305,200 315,185 320,170 335,155 344,140 354,125 359,110 369,95 374,80"/>
<polyline points="119,365 143,350 168,335 192,320 212,305 227,290 241,275 256,260 266,245 281,230 286,215 300,200 305,185 320,170 330,155 340,140 349,125 359,110 364,95 379,80"/>
<polyline points="128,365 153,350 182,335 207,320 232,305 246,290 261,275 276,260 286,245 295,230 305,215 315,200 325,185 335,170 344,155 344,140 359,125 364,110 374,95 374,80"/>
<polyline points="138,365 158,350 187,335 212,320 241,305 261,290 276,275 290,260 305,245 315,230 320,215 330,200 335,185 344,170 349,155 354,140 359,125 369,110 374,95 379,80"/>
<polyline points="119,365 153,350 192,335 232,320 261,305 276,290 290,275 300,260 310,245 320,230 325,215 330,200 335,185 344,170 349,155 359,140 359,125 369,110 369,95 379,80"/>
<polyline points="138,365 148,350 158,335 178,320 197,305 207,290 227,275 251,260 266,245 286,230 290,215 305,200 315,185 330,170 340,155 349,140 354,125 364,110 369,95 379,80"/>
<polyline points="153,365 163,350 178,335 192,320 207,305 227,290 241,275 256,260 271,245 286,230 295,215 305,200 315,185 325,170 335,155 340,140 354,125 364,110 374,95 379,80"/>
<polyline points="104,365 114,350 133,335 158,320 187,305 207,290 232,275 251,260 266,245 281,230 295,215 305,200 320,185 330,170 340,155 344,140 354,125 364,110 374,95 379,80"/>
<polyline points="133,365 138,350 143,335 153,320 153,305 163,290 173,275 182,260 192,245 207,230 217,215 232,200 246,185 266,170 281,155 300,140 320,125 340,110 364,95 379,80"/>
<polyline points="148,365 158,350 168,335 178,320 192,305 202,290 222,275 236,260 251,245 266,230 281,215 295,200 310,185 320,170 330,155 344,140 354,125 364,110 374,95 379,80"/>
<polyline points="99,365 133,350 187,335 227,320 261,305 286,290 295,275 310,260 315,245 325,230 330,215 335,200 344,185 344,170 354,155 364,140 364,125 369,110 374,95 384,80"/>
<polyline points="133,365 148,350 158,335 168,320 178,305 192,290 207,275 217,260 232,245 246,230 261,215 281,200 290,185 305,170 320,155 335,140 344,125 359,110 369,95 379,80"/>
<polyline points="143,365 168,350 192,335 217,320 236,305 246,290 261,275 271,260 286,245 290,230 300,215 310,200 315,185 330,170 340,155 349,140 359,125 364,110 374,95 384,80"/>
<polyline points="99,365 114,350 138,335 173,320 202,305 227,290 246,275 266,260 281,245 295,230 310,215 315,200 325,185 335,170 344,155 349,140 359,125 369,110 374,95 379,80"/>
<polyline points="128,365 138,350 143,335 158,320 168,305 178,290 192,275 207,260 222,245 241,230 251,215 276,200 290,185 300,170 315,155 330,140 344,125 359,110 374,95 384,80"/>
<polyline points="119,365 128,350 133,335 143,320 158,305 168,290 182,275 197,260 212,245 222,230 241,215 256,200 271,185 290,170 310,155 325,140 340,125 354,110 374,95 379,80"/>
<polyline points="128,365 138,350 153,335 168,320 178,305 197,290 212,275 227,260 241,245 261,230 271,215 286,200 300,185 315,170 320,155 335,140 349,125 364,110 374,95 379,80"/>
<polyline points="158,365 168,350 182,335 192,320 207,305 222,290 232,275 246,260 266,245 271,230 286,215 300,200 310,185 320,170 335,155 344,140 354,125 364,110 374,95 389,80"/>
<polyline points="119,365 138,350 163,335 187,320 207,305 232,290 251,275 266,260 281,245 290,230 300,215 315,200 325,185 335,170 344,155 354,140 359,125 369,110 379,95 389,80"/>
<polyline points="119,365 128,350 138,335 148,320 163,305 178,290 192,275 207,260 227,245 246,230 261,215 271,200 290,185 305,170 320,155 335,140 349,125 364,110 374,95 389,80"/>
<polyline points="133,365 197,350 232,335 251,320 266,305 281,290 290,275 300,260 305,245 315,230 325,215 330,200 340,185 344,170 349,155 359,140 369,125 374,110 379,95 384,80"/>
<polyline points="104,365 114,350 124,335 138,320 148,305 168,290 187,275 207,260 222,245 241,230 256,215 276,200 295,185 310,170 325,155 340,140 354,125 364,110 374,95 384,80"/>
<polyline points="124,365 133,350 153,335 168,320 187,305 207,290 232,275 246,260 266,245 281,230 295,215 305,200 320,185 330,170 344,155 349,140 359,125 369,110 379,95 389,80"/>
<polyline points="158,365 168,350 178,335 192,320 207,305 217,290 232,275 246,260 256,245 276,230 290,215 300,200 315,185 325,170 340,155 349,140 359,125 369,110 379,95 389,80"/>
<polyline points="124,365 138,350 158,335 178,320 207,305 227,290 251,275 266,260 281,245 290,230 305,215 315,200 330,185 335,170 349,155 354,140 364,125 374,110 384,95 389,80"/>
<polyline points="124,365 133,350 158,335 178,320 207,305 227,290 246,275 266,260 281,245 300,230 310,215 320,200 330,185 344,170 354,155 359,140 369,125 374,110 384,95 389,80"/>
<polyline points="99,365 133,350 173,335 207,320 232,305 246,290 261,275 276,260 286,245 295,230 305,215 310,200 325,185 335,170 344,155 349,140 364,125 374,110 379,95 389,80"/>
<polyline points="99,365 109,350 119,335 138,320 143,305 163,290 178,275 192,260 212,245 227,230 246,215 266,200 286,185 295,170 315,155 330,140 349,125 364,110 379,95 389,80"/>
<polyline points="148,365 163,350 178,335 202,320 222,305 241,290 261,275 271,260 286,245 295,230 310,215 320,200 335,185 340,170 349,155 364,140 369,125 374,110 384,95 393,80"/>
<polyline points="109,365 119,350 133,335 148,320 168,305 182,290 202,275 222,260 236,245 256,230 271,215 290,200 305,185 315,170 330,155 344,140 359,125 369,110 379,95 389,80"/>
<polyline points="114,365 128,350 153,335 182,320 207,305 227,290 246,275 266,260 281,245 295,230 305,215 320,200 330,185 335,170 349,155 359,140 364,125 374,110 384,95 393,80"/>
<polyline points="143,365 182,350 227,335 256,320 276,305 295,290 310,275 315,260 330,245 335,230 340,215 344,200 359,185 359,170 364,155 369,140 374,125 384,110 389,95 393,80"/>
<polyline points="128,365 138,350 153,335 168,320 187,305 202,290 227,275 241,260 261,245 276,230 286,215 305,200 315,185 330,170 340,155 354,140 364,125 374,110 384,95 393,80"/>
<polyline points="128,365 158,350 187,335 222,320 241,305 261,290 281,275 290,260 305,245 315,230 320,215 335,200 344,185 349,170 354,155 364,140 369,125 379,110 389,95 393,80"/>
<polyline points="119,365 128,350 138,335 153,320 158,305 173,290 182,275 192,260 207,245 227,230 236,215 251,200 271,185 290,170 305,155 325,140 344,125 359,110 379,95 393,80"/>
<polyline points="109,365 119,350 133,335 153,320 173,305 192,290 207,275 227,260 246,245 266,230 276,215 295,200 310,185 330,170 340,155 349,140 359,125 374,110 389,95 393,80"/>
<polyline points="143,365 148,350 153,335 163,320 173,305 182,290 197,275 212,260 227,245 236,230 251,215 266,200 281,185 300,170 315,155 335,140 349,125 364,110 379,95 393,80"/>
<polyline points="143,365 153,350 168,335 182,320 197,305 217,290 232,275 246,260 266,245 281,230 295,215 310,200 325,185 335,170 349,155 359,140 369,125 379,110 389,95 393,80"/>
<polyline points="143,365 178,350 222,335 251,320 276,305 290,290 305,275 315,260 330,245 335,230 344,215 349,200 354,185 359,170 369,155 374,140 384,125 389,110 393,95 398,80"/>
<polyline points="128,365 168,350 202,335 232,320 251,305 266,290 281,275 290,260 300,245 310,230 320,215 330,200 340,185 349,170 354,155 364,140 374,125 384,110 389,95 393,80"/>
<polyline points="119,365 158,350 192,335 227,320 251,305 266,290 281,275 290,260 300,245 310,230 320,215 330,200 335,185 349,170 354,155 364,140 374,125 379,110 389,95 398,80"/>
<polyline points="104,365 128,350 163,335 192,320 222,305 241,290 261,275 276,260 290,245 300,230 310,215 325,200 335,185 344,170 354,155 359,140 374,125 384,110 389,95 398,80"/>
<polyline points="109,365 119,350 133,335 148,320 163,305 178,290 192,275 207,260 227,245 246,230 256,215 276,200 295,185 305,170 325,155 340,140 354,125 369,110 384,95 398,80"/>
<polyline points="104,365 114,350 128,335 143,320 158,305 173,290 192,275 212,260 232,245 251,230 266,215 286,200 305,185 320,170 335,155 349,140 364,125 379,110 389,95 398,80"/>
<polyline points="119,365 133,350 148,335 168,320 192,305 207,290 232,275 246,260 256,245 276,230 290,215 305,200 320,185 330,170 344,155 354,140 369,125 379,110 389,95 403,80"/>
<polyline points="148,365 173,350 187,335 212,320 232,305 256,290 266,275 286,260 295,245 305,230 315,215 330,200 340,185 349,170 359,155 364,140 374,125 384,110 393,95 398,80"/>
<polyline points="158,365 173,350 192,335 212,320 232,305 246,290 271,275 281,260 295,245 300,230 315,215 330,200 335,185 349,170 354,155 364,140 374,125 384,110 393,95 398,80"/>
<polyline points="148,365 168,350 187,335 207,320 227,305 246,290 261,275 276,260 286,245 300,230 310,215 325,200 335,185 344,170 359,155 364,140 379,125 384,110 393,95 403,80"/>
<polyline points="124,365 143,350 163,335 178,320 197,305 212,290 232,275 241,260 256,245 276,230 286,215 300,200 315,185 325,170 340,155 354,140 369,125 379,110 389,95 403,80"/>
<polyline points="148,365 153,350 158,335 173,320 182,305 197,290 207,275 217,260 236,245 241,230 261,215 276,200 295,185 310,170 325,155 344,140 359,125 379,110 389,95 408,80"/>
<polyline points="128,365 143,350 163,335 187,320 207,305 222,290 241,275 261,260 271,245 290,230 305,215 320,200 330,185 340,170 354,155 364,140 374,125 384,110 398,95 403,80"/>
<polyline points="138,365 143,350 148,335 158,320 168,305 182,290 197,275 217,260 232,245 251,230 266,215 286,200 305,185 320,170 335,155 349,140 369,125 379,110 393,95 403,80"/>
<polyline points="109,365 133,350 163,335 192,320 217,305 241,290 256,275 271,260 286,245 300,230 310,215 320,200 335,185 344,170 354,155 369,140 379,125 389,110 393,95 403,80"/>
<polyline points="143,365 158,350 173,335 187,320 207,305 222,290 241,275 251,260 266,245 286,230 295,215 310,200 325,185 340,170 349,155 359,140 379,125 384,110 398,95 403,80"/>
<polyline points="158,365 168,350 187,335 212,320 232,305 256,290 276,275 295,260 305,245 320,230 330,215 344,200 354,185 369,170 374,155 384,140 389,125 393,110 403,95 408,80"/>
<polyline points="143,365 192,350 227,335 256,320 276,305 290,290 305,275 315,260 325,245 330,230 335,215 344,200 354,185 359,170 369,155 374,140 384,125 393,110 398,95 408,80"/>
<polyline points="109,365 124,350 143,335 163,320 182,305 202,290 217,275 236,260 256,245 271,230 286,215 300,200 315,185 330,170 344,155 354,140 374,125 384,110 398,95 408,80"/>
<polyline points="153,365 163,350 173,335 182,320 197,305 212,290 232,275 241,260 261,245 271,230 290,215 310,200 325,185 330,170 344,155 364,140 374,125 384,110 398,95 408,80"/>
<polyline points="109,365 138,350 182,335 212,320 241,305 256,290 271,275 286,260 295,245 305,230 315,215 325,200 335,185 344,170 354,155 369,140 379,125 389,110 398,95 408,80"/>
<polyline points="104,365 138,350 173,335 197,320 222,305 246,290 261,275 271,260 290,245 300,230 310,215 325,200 335,185 344,170 359,155 374,140 379,125 393,110 398,95 413,80"/>
<polyline points="109,365 128,350 153,335 173,320 197,305 217,290 236,275 251,260 266,245 281,230 290,215 305,200 320,185 335,170 349,155 359,140 374,125 389,110 403,95 413,80"/>
<polyline points="124,365 138,350 163,335 187,320 207,305 227,290 246,275 266,260 281,245 295,230 310,215 320,200 335,185 344,170 359,155 374,140 379,125 393,110 398,95 408,80"/>
<polyline points="143,365 153,350 163,335 173,320 187,305 202,290 222,275 236,260 256,245 276,230 295,215 315,200 330,185 344,170 359,155 374,140 379,125 393,110 403,95 408,80"/>
<polyline points="119,365 128,350 138,335 153,320 168,305 182,290 202,275 217,260 236,245 246,230 266,215 281,200 295,185 315,170 330,155 344,140 364,125 384,110 398,95 413,80"/>
<polyline points="109,365 138,350 168,335 202,320 227,305 246,290 266,275 281,260 295,245 305,230 320,215 330,200 340,185 354,170 364,155 374,140 384,125 393,110 403,95 413,80"/>
<polyline points="114,365 133,350 163,335 192,320 222,305 246,290 266,275 281,260 300,245 305,230 320,215 335,200 344,185 349,170 364,155 374,140 384,125 393,110 403,95 413,80"/>
<polyline points="158,365 178,350 202,335 227,320 251,305 271,290 286,275 300,260 310,245 320,230 335,215 344,200 354,185 364,170 374,155 379,140 393,125 403,110 403,95 413,80"/>
<polyline points="119,365 128,350 143,335 163,320 173,305 187,290 207,275 227,260 241,245 261,230 281,215 290,200 310,185 325,170 344,155 359,140 374,125 393,110 403,95 413,80"/>
<polyline points="128,365 138,350 158,335 178,320 207,305 232,290 256,275 271,260 286,245 310,230 320,215 335,200 344,185 359,170 364,155 379,140 389,125 393,110 408,95 418,80"/>
<polyline points="119,365 138,350 168,335 192,320 217,305 241,290 256,275 276,260 290,245 305,230 320,215 330,200 344,185 359,170 369,155 379,140 389,125 398,110 403,95 418,80"/>
<polyline points="128,365 138,350 153,335 173,320 187,305 202,290 222,275 236,260 256,245 271,230 286,215 300,200 315,185 330,170 349,155 359,140 374,125 389,110 403,95 413,80"/>
<polyline points="158,365 163,350 173,335 182,320 187,305 197,290 207,275 222,260 236,245 251,230 266,215 281,200 305,185 320,170 335,155 349,140 369,125 384,110 403,95 413,80"/>
<polyline points="128,365 143,350 163,335 192,320 217,305 241,290 261,275 286,260 300,245 315,230 330,215 335,200 349,185 364,170 369,155 384,140 389,125 398,110 413,95 418,80"/>
<polyline points="119,365 153,350 187,335 222,320 256,305 281,290 295,275 315,260 320,245 335,230 349,215 354,200 364,185 374,170 384,155 389,140 398,125 403,110 413,95 418,80"/>
<polyline points="138,365 148,350 158,335 168,320 187,305 207,290 222,275 241,260 261,245 276,230 295,215 310,200 325,185 344,170 359,155 369,140 384,125 393,110 408,95 418,80"/>
<polyline points="143,365 158,350 178,335 202,320 217,305 232,290 251,275 266,260 281,245 295,230 310,215 320,200 335,185 344,170 359,155 374,140 389,125 398,110 408,95 418,80"/>
<polyline points="143,365 163,350 182,335 202,320 222,305 246,290 261,275 276,260 290,245 305,230 315,215 330,200 349,185 359,170 374,155 379,140 389,125 403,110 413,95 418,80"/>
<polyline points="128,365 173,350 207,335 241,320 261,305 276,290 290,275 305,260 320,245 330,230 335,215 344,200 354,185 364,170 379,155 384,140 393,125 403,110 413,95 418,80"/>
<polyline points="104,365 148,350 182,335 217,320 246,305 261,290 276,275 286,260 300,245 310,230 320,215 335,200 344,185 354,170 369,155 379,140 393,125 398,110 408,95 418,80"/>
<polyline points="124,365 158,350 197,335 232,320 261,305 281,290 300,275 315,260 325,245 330,230 340,215 349,200 359,185 374,170 384,155 389,140 398,125 403,110 413,95 418,80"/>
<polyline points="128,365 143,350 163,335 192,320 217,305 241,290 261,275 281,260 290,245 305,230 320,215 330,200 340,185 354,170 369,155 379,140 389,125 398,110 408,95 423,80"/>
<polyline points="143,365 168,350 202,335 232,320 261,305 286,290 305,275 320,260 330,245 340,230 349,215 359,200 364,185 374,170 384,155 393,140 403,125 408,110 413,95 418,80"/>
<polyline points="124,365 133,350 153,335 168,320 182,305 202,290 227,275 246,260 261,245 281,230 300,215 310,200 330,185 344,170 359,155 379,140 389,125 403,110 413,95 423,80"/>
<polyline points="109,365 119,350 138,335 163,320 178,305 207,290 227,275 241,260 261,245 281,230 290,215 315,200 335,185 349,170 369,155 379,140 393,125 403,110 413,95 423,80"/>
<polyline points="114,365 168,350 217,335 256,320 286,305 305,290 320,275 335,260 344,245 349,230 359,215 369,200 374,185 379,170 393,155 398,140 403,125 413,110 418,95 423,80"/>
<polyline points="158,365 173,350 192,335 217,320 241,305 256,290 276,275 290,260 300,245 315,230 330,215 335,200 344,185 359,170 369,155 379,140 389,125 403,110 413,95 423,80"/>
<polyline points="128,365 143,350 158,335 178,320 197,305 227,290 246,275 266,260 286,245 300,230 315,215 330,200 344,185 354,170 369,155 379,140 393,125 403,110 413,95 423,80"/>
<polyline points="109,365 114,350 119,335 133,320 138,305 153,290 168,275 182,260 202,245 222,230 241,215 261,200 281,185 305,170 330,155 354,140 379,125 393,110 413,95 423,80"/>
<polyline points="114,365 168,350 212,335 241,320 266,305 276,290 290,275 300,260 310,245 320,230 330,215 335,200 349,185 359,170 369,155 379,140 393,125 403,110 418,95 423,80"/>
<polyline points="138,365 163,350 192,335 217,320 241,305 261,290 276,275 300,260 305,245 315,230 330,215 340,200 359,185 369,170 379,155 393,140 398,125 413,110 418,95 428,80"/>
<polyline points="104,365 114,350 128,335 143,320 158,305 178,290 202,275 222,260 246,245 261,230 281,215 300,200 315,185 330,170 349,155 364,140 379,125 393,110 413,95 423,80"/>
<polyline points="158,365 163,350 173,335 187,320 202,305 217,290 227,275 246,260 261,245 286,230 300,215 315,200 335,185 349,170 364,155 384,140 393,125 408,110 418,95 428,80"/>
<polyline points="158,365 187,350 222,335 266,320 295,305 320,290 330,275 344,260 359,245 364,230 374,215 384,200 389,185 393,170 398,155 408,140 413,125 418,110 423,95 423,80"/>
<polyline points="133,365 143,350 158,335 168,320 187,305 197,290 217,275 236,260 251,245 271,230 286,215 300,200 320,185 335,170 354,155 369,140 389,125 403,110 413,95 433,80"/>
<polyline points="143,365 153,350 173,335 192,320 217,305 236,290 256,275 276,260 290,245 310,230 325,215 335,200 344,185 364,170 374,155 389,140 403,125 408,110 418,95 428,80"/>
<polyline points="119,365 128,350 148,335 168,320 182,305 197,290 222,275 241,260 261,245 281,230 295,215 310,200 330,185 349,170 359,155 379,140 389,125 408,110 418,95 428,80"/>
<polyline points="148,365 158,350 182,335 192,320 207,305 227,290 246,275 256,260 271,245 286,230 300,215 315,200 330,185 344,170 359,155 379,140 393,125 403,110 418,95 428,80"/>
<polyline points="133,365 148,350 168,335 182,320 202,305 222,290 236,275 256,260 266,245 290,230 305,215 315,200 335,185 349,170 364,155 384,140 398,125 408,110 418,95 428,80"/>
<polyline points="128,365 143,350 163,335 178,320 202,305 222,290 241,275 266,260 281,245 300,230 315,215 335,200 349,185 364,170 379,155 393,140 403,125 413,110 423,95 428,80"/>
<polyline points="109,365 128,350 158,335 182,320 207,305 227,290 246,275 261,260 286,245 295,230 315,215 330,200 344,185 354,170 374,155 389,140 398,125 413,110 418,95 433,80"/>
<polyline points="104,365 109,350 119,335 133,320 143,305 153,290 168,275 182,260 197,245 222,230 241,215 261,200 281,185 305,170 330,155 354,140 374,125 393,110 413,95 433,80"/>
<polyline points="133,365 153,350 178,335 202,320 232,305 246,290 261,275 281,260 295,245 305,230 325,215 335,200 349,185 364,170 374,155 389,140 408,125 418,110 423,95 433,80"/>
<polyline points="153,365 168,350 182,335 202,320 222,305 241,290 261,275 276,260 295,245 310,230 325,215 340,200 354,185 364,170 379,155 389,140 403,125 413,110 428,95 433,80"/>
<polyline points="104,365 119,350 133,335 158,320 178,305 197,290 217,275 232,260 256,245 276,230 290,215 310,200 325,185 349,170 364,155 379,140 393,125 413,110 423,95 433,80"/>
<polyline points="104,365 128,350 158,335 182,320 212,305 232,290 251,275 271,260 286,245 300,230 315,215 330,200 340,185 359,170 369,155 384,140 398,125 413,110 418,95 433,80"/>
<polyline points="148,365 168,350 197,335 222,320 246,305 261,290 281,275 295,260 310,245 325,230 330,215 349,200 354,185 374,170 384,155 393,140 403,125 418,110 423,95 438,80"/>
<polyline points="153,365 182,350 207,335 232,320 256,305 271,290 290,275 300,260 315,245 330,230 344,215 354,200 369,185 379,170 389,155 398,140 408,125 418,110 428,95 433,80"/>
<polyline points="124,365 143,350 168,335 192,320 217,305 236,290 256,275 271,260 295,245 305,230 320,215 335,200 344,185 359,170 374,155 389,140 403,125 413,110 428,95 433,80"/>
<polyline points="114,365 143,350 182,335 222,320 246,305 281,290 295,275 310,260 325,245 340,230 344,215 359,200 364,185 379,170 389,155 403,140 413,125 418,110 428,95 433,80"/>
<polyline points="153,365 168,350 187,335 202,320 227,305 246,290 261,275 276,260 295,245 310,230 325,215 335,200 349,185 364,170 369,155 393,140 403,125 413,110 428,95 438,80"/>
<polyline points="119,365 158,350 202,335 232,320 256,305 276,290 300,275 310,260 320,245 330,230 340,215 354,200 359,185 374,170 384,155 398,140 408,125 423,110 428,95 443,80"/>
<polyline points="114,365 143,350 178,335 207,320 236,305 261,290 286,275 305,260 325,245 335,230 349,215 364,200 379,185 389,170 398,155 408,140 418,125 428,110 433,95 438,80"/>
<polyline points="114,365 124,350 138,335 153,320 178,305 197,290 222,275 241,260 261,245 281,230 300,215 325,200 344,185 364,170 384,155 398,140 413,125 423,110 433,95 438,80"/>
<polyline points="153,365 187,350 222,335 246,320 271,305 295,290 310,275 325,260 335,245 349,230 359,215 369,200 379,185 389,170 398,155 408,140 418,125 428,110 438,95 443,80"/>
<polyline points="138,365 158,350 187,335 202,320 227,305 251,290 271,275 290,260 305,245 320,230 330,215 344,200 359,185 369,170 379,155 393,140 408,125 418,110 428,95 443,80"/>
<polyline points="153,365 173,350 197,335 217,320 236,305 256,290 271,275 290,260 310,245 320,230 335,215 349,200 359,185 374,170 389,155 403,140 413,125 423,110 433,95 438,80"/>
<polyline points="114,365 128,350 153,335 173,320 202,305 227,290 251,275 276,260 295,245 310,230 330,215 340,200 354,185 374,170 389,155 403,140 413,125 423,110 433,95 438,80"/>
<polyline points="119,365 143,350 168,335 192,320 212,305 236,290 256,275 271,260 290,245 300,230 315,215 335,200 349,185 359,170 374,155 393,140 408,125 418,110 433,95 443,80"/>
<polyline points="148,365 168,350 197,335 227,320 251,305 266,290 286,275 300,260 315,245 325,230 340,215 354,200 364,185 379,170 389,155 408,140 413,125 423,110 433,95 443,80"/>
<polyline points="148,365 168,350 197,335 217,320 236,305 256,290 276,275 290,260 305,245 320,230 330,215 340,200 354,185 364,170 379,155 393,140 403,125 423,110 433,95 443,80"/>
<polyline points="109,365 128,350 143,335 168,320 197,305 222,290 246,275 266,260 286,245 310,230 325,215 344,200 354,185 379,170 389,155 403,140 418,125 428,110 433,95 438,80"/>
<polyline points="114,365 138,350 168,335 197,320 222,305 251,290 276,275 290,260 310,245 325,230 340,215 354,200 369,185 384,170 398,155 408,140 418,125 428,110 433,95 443,80"/>
<polyline points="124,365 133,350 148,335 173,320 192,305 212,290 236,275 256,260 276,245 295,230 310,215 330,200 344,185 359,170 379,155 393,140 413,125 423,110 433,95 447,80"/>
<polyline points="119,365 133,350 143,335 168,320 182,305 207,290 232,275 246,260 271,245 286,230 305,215 325,200 340,185 354,170 374,155 389,140 403,125 418,110 433,95 443,80"/>
<polyline points="153,365 163,350 178,335 192,320 212,305 227,290 246,275 261,260 281,245 290,230 305,215 330,200 344,185 359,170 379,155 393,140 408,125 428,110 438,95 443,80"/>
<polyline points="143,365 178,350 222,335 261,320 290,305 320,290 335,275 349,260 364,245 369,230 379,215 389,200 398,185 408,170 418,155 428,140 433,125 438,110 443,95 447,80"/>
<polyline points="124,365 143,350 168,335 202,320 227,305 256,290 276,275 295,260 310,245 325,230 340,215 349,200 369,185 379,170 393,155 403,140 418,125 428,110 438,95 443,80"/>
<polyline points="133,365 153,350 182,335 217,320 241,305 266,290 286,275 300,260 320,245 335,230 344,215 359,200 369,185 384,170 398,155 408,140 423,125 428,110 438,95 447,80"/>
<polyline points="104,365 128,350 158,335 187,320 217,305 236,290 261,275 281,260 300,245 315,230 330,215 344,200 354,185 369,170 384,155 393,140 408,125 423,110 438,95 447,80"/>
<polyline points="114,365 148,350 187,335 217,320 246,305 271,290 295,275 315,260 330,245 344,230 359,215 374,200 384,185 393,170 413,155 418,140 428,125 438,110 443,95 447,80"/>
<polyline points="128,365 153,350 178,335 207,320 232,305 256,290 276,275 290,260 310,245 325,230 340,215 349,200 364,185 374,170 393,155 398,140 413,125 423,110 438,95 447,80"/>
<polyline points="143,365 173,350 212,335 246,320 276,305 295,290 310,275 330,260 340,245 354,230 364,215 374,200 379,185 393,170 403,155 418,140 423,125 438,110 438,95 447,80"/>
<polyline points="143,365 173,350 207,335 236,320 261,305 281,290 300,275 315,260 330,245 340,230 344,215 359,200 369,185 379,170 393,155 408,140 418,125 428,110 438,95 447,80"/>
<polyline points="109,365 133,350 163,335 192,320 222,305 246,290 266,275 281,260 300,245 315,230 330,215 344,200 359,185 374,170 393,155 408,140 418,125 433,110 443,95 452,80"/>
<polyline points="138,365 158,350 187,335 222,320 246,305 271,290 290,275 305,260 325,245 335,230 354,215 364,200 379,185 389,170 403,155 418,140 428,125 433,110 443,95 447,80"/>
<polyline points="119,365 153,350 192,335 227,320 256,305 286,290 310,275 335,260 349,245 359,230 369,215 384,200 393,185 403,170 413,155 423,140 433,125 438,110 443,95 457,80"/>
<polyline points="148,365 168,350 207,335 241,320 271,305 295,290 310,275 325,260 340,245 349,230 359,215 374,200 389,185 403,170 413,155 428,140 433,125 443,110 447,95 452,80"/>
<polyline points="153,365 163,350 178,335 197,320 217,305 236,290 256,275 276,260 290,245 310,230 330,215 340,200 354,185 369,170 384,155 403,140 418,125 433,110 443,95 452,80"/>
<polyline points="124,365 143,350 163,335 187,320 207,305 232,290 251,275 271,260 290,245 310,230 325,215 340,200 354,185 369,170 384,155 403,140 413,125 428,110 443,95 457,80"/>
<polyline points="153,365 182,350 207,335 227,320 251,305 266,290 281,275 295,260 305,245 320,230 330,215 344,200 354,185 369,170 389,155 403,140 418,125 428,110 443,95 452,80"/>
<polyline points="133,365 158,350 182,335 207,320 227,305 251,290 266,275 281,260 300,245 315,230 330,215 349,200 364,185 379,170 393,155 413,140 428,125 443,110 447,95 457,80"/>
<polyline points="104,365 133,350 163,335 192,320 217,305 236,290 251,275 266,260 281,245 300,230 310,215 325,200 340,185 359,170 374,155 393,140 413,125 428,110 443,95 457,80"/>
<polyline points="143,365 168,350 197,335 227,320 256,305 286,290 305,275 325,260 335,245 349,230 364,215 374,200 384,185 403,170 413,155 423,140 438,125 443,110 452,95 457,80"/>
<polyline points="119,365 153,350 178,335 212,320 236,305 256,290 281,275 300,260 320,245 335,230 349,215 354,200 369,185 389,170 398,155 413,140 428,125 438,110 447,95 457,80"/>
<polyline points="148,365 168,350 182,335 207,320 236,305 256,290 281,275 295,260 315,245 330,230 344,215 359,200 374,185 389,170 403,155 413,140 433,125 438,110 447,95 457,80"/>
<polyline points="148,365 182,350 227,335 261,320 290,305 315,290 330,275 344,260 354,245 364,230 369,215 379,200 393,185 403,170 413,155 423,140 433,125 438,110 447,95 457,80"/>
<polyline points="143,365 173,350 197,335 227,320 251,305 271,290 290,275 310,260 320,245 335,230 349,215 364,200 374,185 389,170 403,155 418,140 428,125 443,110 447,95 457,80"/>
<polyline points="143,365 153,350 168,335 187,320 207,305 227,290 251,275 271,260 290,245 305,230 325,215 344,200 354,185 369,170 384,155 403,140 418,125 428,110 447,95 457,80"/>
<polyline points="158,365 178,350 197,335 222,320 251,305 271,290 290,275 310,260 325,245 335,230 344,215 359,200 374,185 389,170 398,155 413,140 428,125 443,110 452,95 462,80"/>
<polyline points="124,365 168,350 202,335 232,320 261,305 281,290 295,275 305,260 320,245 330,230 344,215 359,200 369,185 389,170 403,155 418,140 428,125 438,110 447,95 457,80"/>
<polyline points="138,365 158,350 182,335 212,320 241,305 271,290 295,275 315,260 330,245 349,230 359,215 374,200 389,185 403,170 418,155 433,140 438,125 447,110 457,95 457,80"/>
<polyline points="109,365 128,350 158,335 182,320 212,305 236,290 266,275 286,260 305,245 315,230 335,215 344,200 359,185 379,170 393,155 413,140 428,125 443,110 457,95 462,80"/>
<polyline points="143,365 168,350 187,335 202,320 227,305 246,290 261,275 276,260 295,245 300,230 320,215 325,200 340,185 354,170 374,155 393,140 413,125 428,110 447,95 462,80"/>
<polyline points="148,365 173,350 192,335 222,320 246,305 266,290 281,275 295,260 310,245 320,230 330,215 344,200 354,185 364,170 384,155 393,140 418,125 433,110 452,95 462,80"/>
<polyline points="153,365 178,350 202,335 222,320 246,305 266,290 286,275 300,260 315,245 325,230 340,215 359,200 369,185 384,170 403,155 413,140 433,125 443,110 452,95 462,80"/>
<polyline points="128,365 153,350 182,335 207,320 232,305 261,290 276,275 295,260 310,245 325,230 335,215 349,200 369,185 384,170 403,155 418,140 433,125 447,110 457,95 462,80"/>
<polyline points="133,365 148,350 163,335 187,320 212,305 232,290 246,275 271,260 290,245 305,230 325,215 340,200 359,185 374,170 393,155 413,140 428,125 443,110 447,95 462,80"/>
<polyline points="114,365 153,350 197,335 236,320 271,305 295,290 315,275 335,260 349,245 359,230 369,215 379,200 389,185 398,170 408,155 423,140 438,125 447,110 452,95 467,80"/>
<polyline points="124,365 158,350 197,335 241,320 281,305 310,290 330,275 349,260 359,245 374,230 384,215 389,200 403,185 413,170 423,155 438,140 443,125 452,110 462,95 462,80"/>
<polyline points="114,365 143,350 178,335 217,320 246,305 271,290 295,275 315,260 325,245 335,230 349,215 364,200 369,185 389,170 398,155 413,140 428,125 443,110 452,95 467,80"/>
<polyline points="99,365 128,350 163,335 202,320 241,305 266,290 290,275 305,260 325,245 340,230 349,215 364,200 374,185 389,170 398,155 413,140 428,125 443,110 452,95 467,80"/>
<polyline points="114,365 138,350 168,335 202,320 227,305 251,290 271,275 290,260 305,245 320,230 340,215 349,200 369,185 379,170 398,155 413,140 433,125 443,110 457,95 467,80"/>
<polyline points="99,365 119,350 143,335 173,320 197,305 227,290 246,275 271,260 295,245 315,230 330,215 344,200 364,185 379,170 393,155 408,140 423,125 443,110 457,95 467,80"/>
<polyline points="133,365 168,350 212,335 246,320 281,305 305,290 325,275 340,260 349,245 364,230 374,215 384,200 389,185 403,170 413,155 428,140 443,125 447,110 462,95 472,80"/>
<polyline points="158,365 173,350 192,335 222,320 246,305 271,290 290,275 310,260 325,245 340,230 354,215 374,200 389,185 403,170 423,155 438,140 447,125 457,110 462,95 467,80"/>
<polyline points="143,365 182,350 232,335 276,320 310,305 335,290 349,275 364,260 374,245 379,230 384,215 393,200 403,185 403,170 413,155 423,140 433,125 447,110 462,95 467,80"/>
<polyline points="114,365 143,350 163,335 192,320 212,305 232,290 246,275 261,260 276,245 290,230 305,215 320,200 335,185 354,170 374,155 398,140 423,125 438,110 457,95 472,80"/>
<polyline points="158,365 173,350 197,335 222,320 236,305 256,290 276,275 295,260 310,245 325,230 335,215 354,200 374,185 389,170 398,155 423,140 438,125 447,110 457,95 467,80"/>
<polyline points="133,365 148,350 173,335 187,320 202,305 227,290 241,275 256,260 266,245 281,230 300,215 315,200 335,185 354,170 379,155 398,140 423,125 443,110 457,95 467,80"/>
<polyline points="143,365 163,350 182,335 207,320 227,305 246,290 261,275 281,260 295,245 310,230 325,215 335,200 349,185 369,170 379,155 408,140 423,125 443,110 457,95 472,80"/>
<polyline points="153,365 173,350 207,335 251,320 286,305 315,290 335,275 354,260 369,245 379,230 384,215 393,200 408,185 418,170 433,155 443,140 452,125 462,110 467,95 472,80"/>
<polyline points="104,365 128,350 158,335 187,320 212,305 236,290 261,275 281,260 295,245 315,230 330,215 344,200 364,185 379,170 398,155 413,140 428,125 443,110 457,95 467,80"/>
<polyline points="119,365 138,350 163,335 187,320 212,305 236,290 256,275 276,260 295,245 310,230 325,215 340,200 354,185 369,170 389,155 403,140 428,125 443,110 457,95 472,80"/>
<polyline points="133,365 168,350 197,335 232,320 256,305 276,290 295,275 315,260 330,245 344,230 359,215 374,200 393,185 413,170 428,155 443,140 452,125 457,110 467,95 472,80"/>
<polyline points="114,365 124,350 143,335 173,320 207,305 241,290 271,275 295,260 315,245 330,230 344,215 369,200 389,185 408,170 423,155 443,140 457,125 467,110 467,95 472,80"/>
<polyline points="104,365 133,350 182,335 227,320 271,305 300,290 330,275 344,260 364,245 379,230 384,215 398,200 408,185 423,170 438,155 452,140 462,125 467,110 472,95 472,80"/>
<polyline points="128,365 163,350 202,335 236,320 266,305 290,290 305,275 325,260 340,245 349,230 364,215 379,200 389,185 403,170 418,155 438,140 447,125 462,110 467,95 482,80"/>
<polyline points="104,365 124,350 163,335 202,320 241,305 271,290 295,275 310,260 325,245 344,230 359,215 369,200 384,185 398,170 418,155 433,140 447,125 452,110 467,95 482,80"/>
<polyline points="128,365 158,350 202,335 236,320 266,305 290,290 310,275 330,260 340,245 349,230 359,215 369,200 379,185 384,170 403,155 413,140 428,125 452,110 462,95 482,80"/>
<polyline points="158,365 182,350 222,335 256,320 281,305 310,290 320,275 335,260 349,245 359,230 369,215 379,200 389,185 403,170 413,155 433,140 443,125 457,110 467,95 477,80"/>
<polyline points="138,365 173,350 212,335 246,320 276,305 295,290 315,275 335,260 349,245 364,230 379,215 389,200 403,185 418,170 433,155 443,140 457,125 462,110 472,95 482,80"/>
<polyline points="148,365 168,350 202,335 232,320 261,305 286,290 300,275 320,260 335,245 344,230 359,215 374,200 389,185 403,170 418,155 433,140 447,125 462,110 472,95 482,80"/>
<polyline points="148,365 187,350 227,335 261,320 290,305 310,290 330,275 344,260 354,245 369,230 379,215 389,200 398,185 413,170 433,155 443,140 457,125 467,110 472,95 482,80"/>
<polyline points="114,365 133,350 158,335 192,320 227,305 241,290 266,275 290,260 310,245 325,230 344,215 359,200 374,185 393,170 408,155 428,140 443,125 457,110 472,95 482,80"/>
<polyline points="124,365 158,350 192,335 222,320 251,305 271,290 290,275 305,260 320,245 340,230 349,215 364,200 384,185 398,170 413,155 428,140 443,125 457,110 472,95 477,80"/>
<polyline points="124,365 163,350 197,335 236,320 261,305 290,290 310,275 330,260 340,245 354,230 364,215 379,200 393,185 413,170 428,155 438,140 452,125 462,110 472,95 482,80"/>
<polyline points="138,365 168,350 192,335 222,320 241,305 266,290 286,275 305,260 320,245 335,230 349,215 364,200 379,185 389,170 403,155 418,140 438,125 457,110 467,95 477,80"/>
<polyline points="124,365 182,350 236,335 271,320 305,305 325,290 344,275 354,260 364,245 374,230 379,215 389,200 398,185 413,170 433,155 447,140 457,125 472,110 472,95 482,80"/>
<polyline points="114,365 168,350 217,335 246,320 271,305 290,290 310,275 325,260 335,245 344,230 354,215 364,200 384,185 398,170 413,155 433,140 447,125 467,110 472,95 482,80"/>
<polyline points="138,365 173,350 217,335 251,320 281,305 305,290 325,275 335,260 349,245 364,230 374,215 384,200 393,185 403,170 423,155 438,140 452,125 462,110 477,95 482,80"/>
<polyline points="99,365 128,350 163,335 197,320 227,305 251,290 271,275 290,260 305,245 320,230 335,215 344,200 364,185 379,170 398,155 418,140 438,125 452,110 472,95 487,80"/>
<polyline points="138,365 182,350 222,335 261,320 286,305 310,290 325,275 340,260 349,245 359,230 369,215 379,200 389,185 403,170 418,155 438,140 452,125 467,110 472,95 487,80"/>
<polyline points="158,365 187,350 217,335 251,320 276,305 290,290 310,275 325,260 340,245 349,230 364,215 369,200 384,185 393,170 408,155 428,140 443,125 462,110 472,95 492,80"/>
<polyline points="143,365 163,350 182,335 207,320 227,305 246,290 266,275 286,260 300,245 315,230 335,215 349,200 374,185 398,170 418,155 438,140 447,125 467,110 482,95 482,80"/>
<polyline points="119,365 153,350 187,335 217,320 241,305 261,290 276,275 290,260 305,245 320,230 325,215 340,200 354,185 374,170 389,155 413,140 433,125 452,110 472,95 482,80"/>
<polyline points="104,365 133,350 168,335 197,320 227,305 246,290 271,275 286,260 300,245 315,230 330,215 349,200 359,185 384,170 403,155 428,140 443,125 462,110 477,95 487,80"/>
<polyline points="99,365 133,350 168,335 197,320 222,305 241,290 261,275 286,260 300,245 310,230 325,215 344,200 364,185 379,170 403,155 423,140 443,125 462,110 472,95 487,80"/>
<polyline points="128,365 158,350 192,335 236,320 266,305 290,290 315,275 335,260 349,245 364,230 369,215 384,200 389,185 403,170 413,155 428,140 438,125 462,110 477,95 487,80"/>
<polyline points="124,365 153,350 182,335 212,320 246,305 271,290 290,275 305,260 325,245 335,230 349,215 359,200 374,185 393,170 413,155 433,140 452,125 467,110 477,95 487,80"/>
<polyline points="143,365 182,350 212,335 246,320 271,305 295,290 310,275 325,260 344,245 354,230 364,215 379,200 393,185 408,170 428,155 443,140 457,125 467,110 477,95 487,80"/>
<polyline points="148,365 178,350 212,335 241,320 271,305 295,290 320,275 340,260 349,245 364,230 384,215 393,200 408,185 418,170 438,155 452,140 462,125 477,110 482,95 487,80"/>
<polyline points="148,365 187,350 227,335 251,320 276,305 295,290 310,275 325,260 330,245 340,230 349,215 364,200 379,185 398,170 413,155 438,140 452,125 467,110 477,95 492,80"/>
<polyline points="138,365 173,350 207,335 241,320 266,305 290,290 310,275 330,260 344,245 354,230 369,215 384,200 393,185 408,170 423,155 438,140 457,125 467,110 482,95 487,80"/>
<polyline points="114,365 138,350 178,335 222,320 256,305 286,290 305,275 320,260 335,245 344,230 359,215 369,200 389,185 403,170 423,155 438,140 457,125 472,110 482,95 492,80"/>
<polyline points="158,365 197,350 236,335 261,320 281,305 295,290 310,275 320,260 330,245 340,230 354,215 364,200 379,185 393,170 413,155 433,140 452,125 467,110 482,95 492,80"/>
<polyline points="153,365 207,350 256,335 295,320 320,305 340,290 359,275 379,260 379,245 384,230 389,215 398,200 408,185 423,170 443,155 457,140 467,125 482,110 487,95 492,80"/>
<polyline points="148,365 202,350 241,335 276,320 295,305 310,290 330,275 335,260 344,245 349,230 359,215 374,200 384,185 398,170 413,155 433,140 447,125 472,110 482,95 492,80"/>
<polyline points="133,365 192,350 241,335 286,320 310,305 335,290 349,275 369,260 379,245 384,230 384,215 398,200 408,185 423,170 438,155 452,140 467,125 477,110 487,95 492,80"/>
<polyline points="128,365 178,350 236,335 276,320 310,305 330,290 349,275 359,260 374,245 379,230 384,215 393,200 403,185 418,170 433,155 452,140 462,125 477,110 487,95 497,80"/>
<polyline points="104,365 143,350 182,335 217,320 236,305 261,290 271,275 286,260 290,245 300,230 315,215 325,200 344,185 369,170 403,155 423,140 452,125 472,110 482,95 492,80"/>
<polyline points="109,365 148,350 187,335 217,320 241,305 266,290 276,275 295,260 310,245 320,230 340,215 354,200 379,185 403,170 418,155 447,140 457,125 472,110 487,95 497,80"/>
<polyline points="158,365 202,350 251,335 281,320 305,305 325,290 340,275 349,260 364,245 369,230 389,215 393,200 408,185 418,170 433,155 447,140 462,125 472,110 487,95 497,80"/>
<polyline points="133,365 168,350 202,335 232,320 256,305 276,290 290,275 300,260 320,245 325,230 340,215 349,200 364,185 379,170 398,155 418,140 443,125 462,110 482,95 497,80"/>
<polyline points="158,365 212,350 261,335 300,320 330,305 344,290 359,275 379,260 389,245 389,230 398,215 408,200 418,185 428,170 447,155 462,140 477,125 487,110 492,95 506,80"/>
<polyline points="163,365 217,350 266,335 305,320 335,305 349,290 369,275 389,260 398,245 403,230 408,215 413,200 423,185 428,170 452,155 462,140 477,125 487,110 492,95 501,80"/>
<polyline points="158,365 217,350 266,335 300,320 325,305 344,290 359,275 389,260 403,245 418,230 418,215 418,200 423,185 438,170 452,155 467,140 477,125 487,110 492,95 501,80"/>
<polyline points="158,365 222,350 286,335 320,320 344,305 369,290 384,275 403,260 408,245 418,230 418,215 418,200 418,185 423,170 443,155 462,140 472,125 487,110 492,95 501,80"/>
<polyline points="163,365 227,350 281,335 325,320 359,305 379,290 398,275 413,260 413,245 413,230 413,215 413,200 413,185 428,170 447,155 462,140 472,125 487,110 492,95 501,80"/>
<polyline points="163,365 227,350 286,335 335,320 344,305 364,290 379,275 398,260 408,245 413,230 423,215 423,200 428,185 443,170 457,155 467,140 487,125 487,110 487,95 501,80"/>
<polyline points="168,365 246,350 310,335 349,320 369,305 379,290 393,275 398,260 413,245 413,230 418,215 423,200 428,185 443,170 452,155 472,140 482,125 487,110 492,95 501,80"/>
<polyline points="168,365 241,350 305,335 335,320 354,305 359,290 374,275 393,260 403,245 423,230 423,215 428,200 433,185 447,170 457,155 472,140 482,125 487,110 492,95 506,80"/>
<polyline points="163,365 236,350 295,335 340,320 359,305 379,290 389,275 403,260 413,245 418,230 428,215 428,200 433,185 443,170 457,155 472,140 487,125 487,110 492,95 506,80"/>
<polyline points="168,365 236,350 305,335 344,320 359,305 379,290 393,275 403,260 413,245 423,230 423,215 428,200 433,185 447,170 457,155 472,140 487,125 487,110 492,95 506,80"/>
<polyline points="163,365 256,350 325,335 364,320 384,305 389,290 408,275 413,260 418,245 428,230 428,215 428,200 433,185 443,170 457,155 472,140 482,125 487,110 492,95 501,80"/>
<polyline points="163,365 256,350 325,335 359,320 384,305 393,290 403,275 403,260 413,245 418,230 418,215 423,200 438,185 447,170 457,155 472,140 482,125 487,110 492,95 506,80"/>
<polyline points="168,365 246,350 320,335 364,320 379,305 398,290 408,275 418,260 423,245 428,230 428,215 428,200 428,185 438,170 457,155 472,140 487,125 487,110 492,95 506,80"/>
<polyline points="168,365 256,350 325,335 364,320 379,305 393,290 408,275 413,260 413,245 413,230 423,215 428,200 438,185 447,170 452,155 472,140 487,125 487,110 492,95 506,80"/>
</g>
<g shape-rendering="crispEdges">
<rect x="65.5" y="65.5" width="550" height="310" fill="none" stroke="#000" stroke-width="1"/>
<path d="M128.5 375V370 M128.5 66V71 M181.5 375V365 M181.5 66V76 M234.5 375V370 M234.5 66V71 M287.5 375V365 M287.5 66V76 M340.5 375V370 M340.5 66V71 M393.5 375V365 M393.5 66V76 M446.5 375V370 M446.5 66V71 M499.5 375V365 M499.5 66V76 M552.5 375V370 M552.5 66V71 M605.5 375V365 M605.5 66V76 M66 336.5H71 M615 336.5H610 M66 307.5H71 M615 307.5H610 M66 278.5H71 M615 278.5H610 M66 249.5H71 M615 249.5H610 M66 220.5H76 M615 220.5H605 M66 191.5H71 M615 191.5H610 M66 162.5H71 M615 162.5H610 M66 133.5H71 M615 133.5H610 M66 104.5H71 M615 104.5H610 M66 75.5H76 M615 75.5H605" stroke="#000" stroke-width="1" fill="none"/>
</g>
<g style="will-change:transform">
<text x="357.5" y="30" text-anchor="middle">T0957s1-D1</text>
<text x="334.6" y="420" text-anchor="middle">Percent of Residues (CA)</text>
<text x="64.5" y="395" text-anchor="middle">0</text>
<text x="180" y="395" text-anchor="middle">20</text>
<text x="286" y="395" text-anchor="middle">40</text>
<text x="392" y="395" text-anchor="middle">60</text>
<text x="498" y="395" text-anchor="middle">80</text>
<text x="608.8" y="395" text-anchor="middle">100</text>
<text x="30.5" y="233.8" text-anchor="middle" transform="rotate(-90 30.5 233.8)">Distance Cutoff, A</text>
<text x="55" y="375.5" text-anchor="middle" transform="rotate(-90 55 375.5)">0</text>
<text x="55" y="220" text-anchor="middle" transform="rotate(-90 55 220)">5</text>
<text x="55" y="65.7" text-anchor="middle" transform="rotate(-90 55 65.7)">10</text>
</g>
</svg>
</body></html>
